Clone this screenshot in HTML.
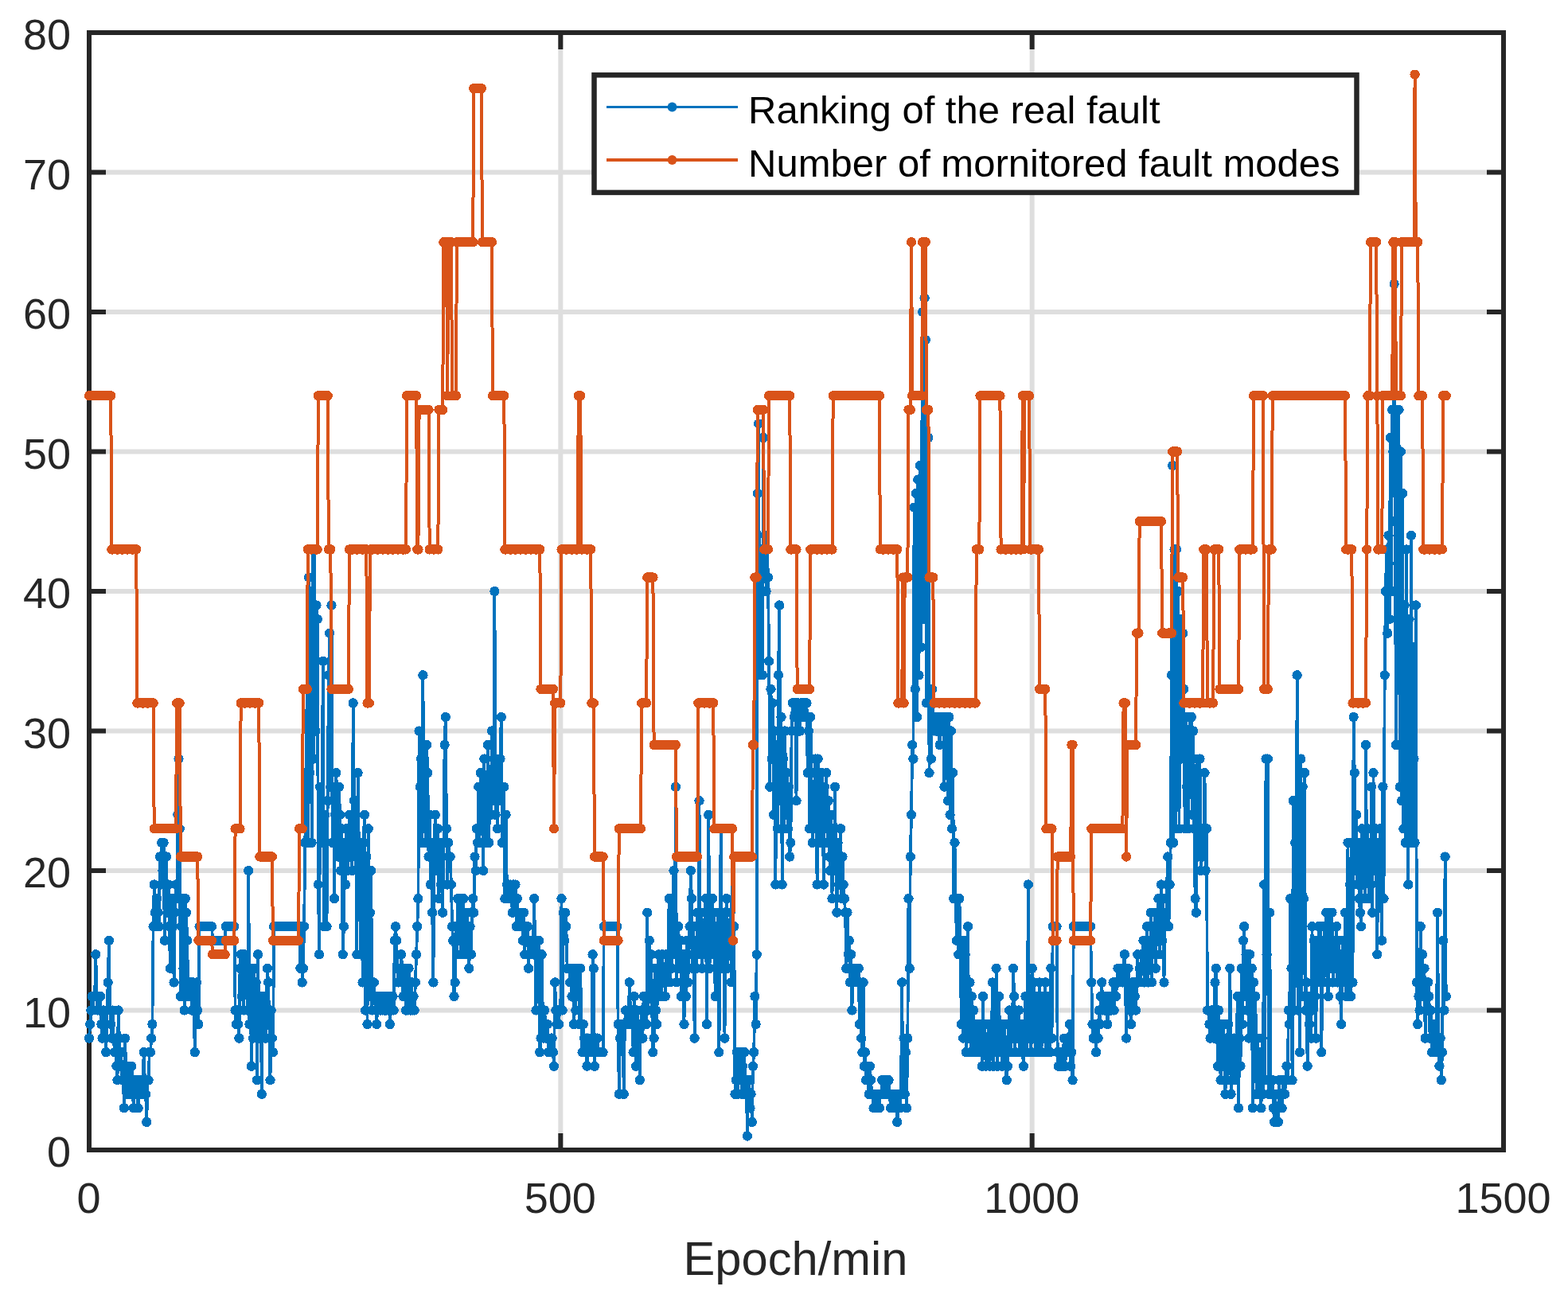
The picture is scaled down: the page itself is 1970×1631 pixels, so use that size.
<!DOCTYPE html>
<html lang="en">
<head>
<meta charset="utf-8">
<title>Ranking of the real fault vs. number of monitored fault modes</title>
<style>
html,body{margin:0;padding:0;background:#fff;}
body{width:1970px;height:1631px;overflow:hidden;font-family:"Liberation Sans",Arial,Helvetica,sans-serif;}
svg{display:block;}
</style>
</head>
<body>
<svg width="1970" height="1631" viewBox="0 0 1970 1631">
<rect width="1970" height="1631" fill="#fff"/>
<path d="M704.33 41.0V1445.0M1296.67 41.0V1445.0M112.0 1269.50H1889.0M112.0 1094.00H1889.0M112.0 918.50H1889.0M112.0 743.00H1889.0M112.0 567.50H1889.0M112.0 392.00H1889.0M112.0 216.50H1889.0" stroke="#dedede" stroke-width="6" fill="none"/>
<path d="M704.33 1445.0v-21M704.33 41.0v21M1296.67 1445.0v-21M1296.67 41.0v21M112.0 1269.50h21M1889.0 1269.50h-21M112.0 1094.00h21M1889.0 1094.00h-21M112.0 918.50h21M1889.0 918.50h-21M112.0 743.00h21M1889.0 743.00h-21M112.0 567.50h21M1889.0 567.50h-21M112.0 392.00h21M1889.0 392.00h-21M112.0 216.50h21M1889.0 216.50h-21" stroke="#262626" stroke-width="6" fill="none"/>
<rect x="112.0" y="41.0" width="1777.0" height="1404.0" fill="none" stroke="#262626" stroke-width="6"/>
<path d="M112.0 1304.6L113.2 1287.0L114.4 1269.5L115.6 1252.0L116.7 1269.5L117.9 1252.0L119.1 1252.0L120.3 1199.3L121.5 1252.0L122.7 1269.5L123.8 1252.0L125.0 1269.5L126.2 1252.0L127.4 1287.0L128.6 1304.6L129.8 1269.5L131.0 1287.0L132.1 1304.6L133.3 1322.2L134.5 1269.5L135.7 1234.4L136.9 1181.8L138.1 1269.5L139.2 1287.0L140.4 1304.6L141.6 1269.5L142.8 1304.6L144.0 1322.2L145.2 1304.6L146.4 1339.7L147.5 1357.2L148.7 1269.5L149.9 1304.6L151.1 1339.7L152.3 1322.2L153.5 1357.2L154.6 1339.7L155.8 1392.3L157.0 1304.6L158.2 1339.7L159.4 1357.2L160.6 1374.8L161.8 1339.7L162.9 1357.2L164.1 1374.8L165.3 1339.7L166.5 1357.2L167.7 1392.3L168.9 1357.2L170.0 1374.8L171.2 1357.2L172.4 1374.8L173.6 1392.3L174.8 1357.2L176.0 1374.8L177.2 1357.2L178.3 1374.8L179.5 1357.2L180.7 1322.2L181.9 1357.2L183.1 1374.8L184.3 1409.9L185.4 1357.2L186.6 1357.2L187.8 1322.2L189.0 1322.2L190.2 1304.6L191.4 1287.0L192.6 1164.2L193.7 1111.5L194.9 1146.7L196.1 1164.2L197.3 1129.1L198.5 1146.7L199.7 1164.2L200.8 1076.5L202.0 1111.5L203.2 1058.9L204.4 1094.0L205.6 1058.9L206.8 1181.8L208.0 1111.5L209.1 1076.5L210.3 1146.7L211.5 1111.5L212.7 1164.2L213.9 1216.8L215.1 1146.7L216.3 1129.1L217.4 1164.2L218.6 1234.4L219.8 1146.7L221.0 1111.5L222.2 1129.1L223.4 1023.8L224.5 953.6L225.7 1041.3L226.9 1252.0L228.1 1164.2L229.3 1129.1L230.5 1216.8L231.7 1269.5L232.8 1129.1L234.0 1146.7L235.2 1181.8L236.4 1252.0L237.6 1234.4L238.8 1252.0L239.9 1234.4L241.1 1269.5L242.3 1234.4L243.5 1252.0L244.7 1322.2L245.9 1252.0L247.1 1234.4L248.2 1269.5L249.4 1287.0L250.6 1164.2L251.8 1164.2L253.0 1164.2L254.2 1164.2L255.3 1164.2L256.5 1164.2L257.7 1164.2L258.9 1164.2L260.1 1164.2L261.3 1164.2L262.5 1164.2L263.6 1164.2L264.8 1164.2L266.0 1164.2L267.2 1181.8L268.4 1181.8L269.6 1181.8L270.7 1181.8L271.9 1181.8L273.1 1181.8L274.3 1181.8L275.5 1181.8L276.7 1181.8L277.9 1181.8L279.0 1181.8L280.2 1181.8L281.4 1181.8L282.6 1181.8L283.8 1164.2L285.0 1164.2L286.1 1164.2L287.3 1164.2L288.5 1164.2L289.7 1164.2L290.9 1164.2L292.1 1164.2L293.3 1164.2L294.4 1164.2L295.6 1269.5L296.8 1287.0L298.0 1269.5L299.2 1287.0L300.4 1304.6L301.5 1216.8L302.7 1199.3L303.9 1252.0L305.1 1199.3L306.3 1269.5L307.5 1199.3L308.7 1234.4L309.8 1216.8L311.0 1269.5L312.2 1094.0L313.4 1287.0L314.6 1216.8L315.8 1339.7L316.9 1234.4L318.1 1304.6L319.3 1216.8L320.5 1287.0L321.7 1234.4L322.9 1357.2L324.1 1199.3L325.2 1269.5L326.4 1304.6L327.6 1252.0L328.8 1374.8L330.0 1269.5L331.2 1287.0L332.3 1252.0L333.5 1304.6L334.7 1269.5L335.9 1216.8L337.1 1234.4L338.3 1287.0L339.5 1357.2L340.6 1269.5L341.8 1304.6L343.0 1322.2L344.2 1164.2L345.4 1164.2L346.6 1164.2L347.7 1164.2L348.9 1164.2L350.1 1164.2L351.3 1164.2L352.5 1164.2L353.7 1164.2L354.9 1164.2L356.0 1164.2L357.2 1164.2L358.4 1164.2L359.6 1164.2L360.8 1164.2L362.0 1164.2L363.1 1164.2L364.3 1164.2L365.5 1164.2L366.7 1164.2L367.9 1164.2L369.1 1164.2L370.3 1164.2L371.4 1164.2L372.6 1164.2L373.8 1164.2L375.0 1164.2L376.2 1164.2L377.4 1216.8L378.6 1164.2L379.7 1234.4L380.9 1216.8L382.1 1164.2L383.3 1058.9L384.5 971.1L385.7 865.9L386.8 1058.9L388.0 725.5L389.2 971.1L390.4 743.0L391.6 1058.9L392.8 690.4L394.0 953.6L395.1 690.4L396.3 918.5L397.5 760.5L398.7 778.1L399.9 1111.5L401.1 1199.3L402.2 988.7L403.4 1058.9L404.6 1006.2L405.8 830.8L407.0 1164.2L408.2 1023.8L409.4 1058.9L410.5 1164.2L411.7 1006.2L412.9 848.3L414.1 795.6L415.3 988.7L416.5 760.5L417.6 1058.9L418.8 988.7L420.0 1129.1L421.2 1023.8L422.4 971.1L423.6 1023.8L424.8 1076.5L425.9 988.7L427.1 1023.8L428.3 1094.0L429.5 1041.3L430.7 1199.3L431.9 1164.2L433.0 1058.9L434.2 1111.5L435.4 1041.3L436.6 1094.0L437.8 1058.9L439.0 1023.8L440.2 1076.5L441.3 1041.3L442.5 1094.0L443.7 883.4L444.9 1006.2L446.1 1006.2L447.3 1076.5L448.4 1199.3L449.6 971.1L450.8 1058.9L452.0 1094.0L453.2 1199.3L454.4 1058.9L455.6 1234.4L456.7 1058.9L457.9 1023.8L459.1 1269.5L460.3 1076.5L461.5 1287.0L462.7 1041.3L463.8 1252.0L465.0 1146.7L466.2 1094.0L467.4 1269.5L468.6 1234.4L469.8 1234.4L471.0 1252.0L472.1 1269.5L473.3 1287.0L474.5 1252.0L475.7 1269.5L476.9 1252.0L478.1 1269.5L479.2 1252.0L480.4 1269.5L481.6 1252.0L482.8 1269.5L484.0 1252.0L485.2 1269.5L486.4 1252.0L487.5 1269.5L488.7 1252.0L489.9 1287.0L491.1 1252.0L492.3 1269.5L493.5 1252.0L494.6 1269.5L495.8 1181.8L497.0 1164.2L498.2 1181.8L499.4 1216.8L500.6 1234.4L501.8 1216.8L502.9 1234.4L504.1 1199.3L505.3 1216.8L506.5 1252.0L507.7 1216.8L508.9 1234.4L510.0 1269.5L511.2 1216.8L512.4 1269.5L513.6 1216.8L514.8 1252.0L516.0 1269.5L517.2 1234.4L518.3 1269.5L519.5 1252.0L520.7 1269.5L521.9 1234.4L523.1 1199.3L524.3 1164.2L525.4 1129.1L526.6 918.5L527.8 988.7L529.0 953.6L530.2 1058.9L531.4 848.3L532.6 1041.3L533.7 971.1L534.9 1058.9L536.1 936.0L537.3 971.1L538.5 1076.5L539.7 1023.8L540.8 1111.5L542.0 1058.9L543.2 1146.7L544.4 1234.4L545.6 1058.9L546.8 1023.8L548.0 1094.0L549.1 1058.9L550.3 1041.3L551.5 1129.1L552.7 1058.9L553.9 1111.5L555.1 1076.5L556.2 1146.7L557.4 1058.9L558.6 936.0L559.8 901.0L561.0 1041.3L562.2 1111.5L563.4 1058.9L564.5 1076.5L565.7 1076.5L566.9 1111.5L568.1 1164.2L569.3 1181.8L570.5 1252.0L571.7 1234.4L572.8 1164.2L574.0 1199.3L575.2 1129.1L576.4 1181.8L577.6 1129.1L578.8 1199.3L579.9 1146.7L581.1 1181.8L582.3 1129.1L583.5 1199.3L584.7 1164.2L585.9 1181.8L587.1 1146.7L588.2 1199.3L589.4 1216.8L590.6 1164.2L591.8 1199.3L593.0 1146.7L594.2 1129.1L595.3 1146.7L596.5 1076.5L597.7 1094.0L598.9 1041.3L600.1 1058.9L601.3 988.7L602.5 1058.9L603.6 971.1L604.8 1041.3L606.0 1006.2L607.2 1094.0L608.4 953.6L609.6 1058.9L610.7 988.7L611.9 1023.8L613.1 936.0L614.3 1058.9L615.5 971.1L616.7 1023.8L617.9 918.5L619.0 1006.2L620.2 953.6L621.4 743.0L622.6 1023.8L623.8 953.6L625.0 1041.3L626.1 971.1L627.3 1006.2L628.5 953.6L629.7 901.0L630.9 1058.9L632.1 1058.9L633.3 988.7L634.4 1129.1L635.6 1023.8L636.8 1111.5L638.0 1129.1L639.2 1111.5L640.4 1129.1L641.5 1111.5L642.7 1129.1L643.9 1146.7L645.1 1111.5L646.3 1129.1L647.5 1111.5L648.7 1164.2L649.8 1129.1L651.0 1146.7L652.2 1164.2L653.4 1146.7L654.6 1164.2L655.8 1146.7L656.9 1181.8L658.1 1146.7L659.3 1199.3L660.5 1164.2L661.7 1181.8L662.9 1164.2L664.1 1216.8L665.2 1181.8L666.4 1199.3L667.6 1181.8L668.8 1199.3L670.0 1181.8L671.2 1129.1L672.3 1199.3L673.5 1269.5L674.7 1181.8L675.9 1199.3L677.1 1181.8L678.3 1322.2L679.5 1304.6L680.6 1199.3L681.8 1269.5L683.0 1304.6L684.2 1269.5L685.4 1287.0L686.6 1304.6L687.7 1287.0L688.9 1322.2L690.1 1304.6L691.3 1322.2L692.5 1304.6L693.7 1304.6L694.9 1322.2L696.0 1339.7L697.2 1234.4L698.4 1269.5L699.6 1287.0L700.8 1269.5L702.0 1287.0L703.1 1269.5L704.3 1269.5L705.5 1129.1L706.7 1269.5L707.9 1146.7L709.1 1181.8L710.3 1146.7L711.4 1164.2L712.6 1216.8L713.8 1216.8L715.0 1216.8L716.2 1234.4L717.4 1216.8L718.5 1252.0L719.7 1216.8L720.9 1287.0L722.1 1216.8L723.3 1269.5L724.5 1216.8L725.7 1252.0L726.8 1216.8L728.0 1287.0L729.2 1216.8L730.4 1287.0L731.6 1322.2L732.8 1287.0L734.0 1304.6L735.1 1322.2L736.3 1304.6L737.5 1339.7L738.7 1304.6L739.9 1322.2L741.1 1304.6L742.2 1322.2L743.4 1304.6L744.6 1199.3L745.8 1216.8L747.0 1339.7L748.2 1304.6L749.4 1322.2L750.5 1304.6L751.7 1322.2L752.9 1322.2L754.1 1322.2L755.3 1322.2L756.5 1322.2L757.6 1322.2L758.8 1164.2L760.0 1164.2L761.2 1164.2L762.4 1164.2L763.6 1164.2L764.8 1164.2L765.9 1164.2L767.1 1164.2L768.3 1164.2L769.5 1164.2L770.7 1164.2L771.9 1164.2L773.0 1164.2L774.2 1164.2L775.4 1164.2L776.6 1287.0L777.8 1374.8L779.0 1304.6L780.2 1287.0L781.3 1304.6L782.5 1287.0L783.7 1374.8L784.9 1287.0L786.1 1269.5L787.3 1287.0L788.4 1269.5L789.6 1287.0L790.8 1234.4L792.0 1269.5L793.2 1287.0L794.4 1269.5L795.6 1322.2L796.7 1252.0L797.9 1287.0L799.1 1339.7L800.3 1269.5L801.5 1287.0L802.7 1304.6L803.8 1357.2L805.0 1287.0L806.2 1269.5L807.4 1304.6L808.6 1252.0L809.8 1287.0L811.0 1269.5L812.1 1287.0L813.3 1146.7L814.5 1269.5L815.7 1181.8L816.9 1234.4L818.1 1199.3L819.2 1269.5L820.4 1322.2L821.6 1304.6L822.8 1216.8L824.0 1269.5L825.2 1287.0L826.4 1216.8L827.5 1199.3L828.7 1252.0L829.9 1216.8L831.1 1252.0L832.3 1199.3L833.5 1234.4L834.6 1216.8L835.8 1252.0L837.0 1199.3L838.2 1234.4L839.4 1216.8L840.6 1129.1L841.8 1234.4L842.9 1199.3L844.1 1216.8L845.3 1129.1L846.5 1094.0L847.7 1199.3L848.9 988.7L850.0 1234.4L851.2 1199.3L852.4 1164.2L853.6 1216.8L854.8 1181.8L856.0 1252.0L857.2 1199.3L858.3 1234.4L859.5 1287.0L860.7 1199.3L861.9 1252.0L863.1 1181.8L864.3 1234.4L865.4 1199.3L866.6 1164.2L867.8 1094.0L869.0 1129.1L870.2 1216.8L871.4 1164.2L872.6 1304.6L873.7 1181.8L874.9 1216.8L876.1 1146.7L877.3 1199.3L878.5 1006.2L879.7 1199.3L880.8 1146.7L882.0 1216.8L883.2 1164.2L884.4 1199.3L885.6 1146.7L886.8 1129.1L888.0 1287.0L889.1 1164.2L890.3 1023.8L891.5 1216.8L892.7 1146.7L893.9 1181.8L895.1 1129.1L896.2 1199.3L897.4 1146.7L898.6 1252.0L899.8 1164.2L901.0 1216.8L902.2 1146.7L903.4 1322.2L904.5 1181.8L905.7 1041.3L906.9 1216.8L908.1 1146.7L909.3 1199.3L910.5 1304.6L911.6 1164.2L912.8 1129.1L914.0 1216.8L915.2 1164.2L916.4 1199.3L917.6 1146.7L918.8 1234.4L919.9 1041.3L921.1 1164.2L922.3 1164.2L923.5 1374.8L924.7 1357.2L925.9 1322.2L927.1 1374.8L928.2 1339.7L929.4 1357.2L930.6 1322.2L931.8 1374.8L933.0 1339.7L934.2 1357.2L935.3 1322.2L936.5 1374.8L937.7 1357.2L938.9 1427.5L940.1 1374.8L941.3 1357.2L942.5 1392.3L943.6 1374.8L944.8 1409.9L946.0 1339.7L947.2 1322.2L948.4 1252.0L949.6 1287.0L950.7 1199.3L951.9 620.1L953.1 532.4L954.3 848.3L955.5 690.4L956.7 743.0L957.9 848.3L959.0 550.0L960.2 707.9L961.4 672.8L962.6 743.0L963.8 690.4L965.0 725.5L966.1 830.8L967.3 988.7L968.5 865.9L969.7 953.6L970.9 883.4L972.1 1023.8L973.3 918.5L974.4 1111.5L975.6 936.0L976.8 1041.3L978.0 848.3L979.2 760.5L980.4 1006.2L981.5 901.0L982.7 1111.5L983.9 953.6L985.1 1041.3L986.3 918.5L987.5 1023.8L988.7 971.1L989.8 1041.3L991.0 988.7L992.2 1076.5L993.4 1058.9L994.6 918.5L995.8 883.4L996.9 883.4L998.1 901.0L999.3 883.4L1000.5 1006.2L1001.7 883.4L1002.9 883.4L1004.1 918.5L1005.2 918.5L1006.4 883.4L1007.6 883.4L1008.8 901.0L1010.0 883.4L1011.2 883.4L1012.3 901.0L1013.5 883.4L1014.7 971.1L1015.9 918.5L1017.1 1041.3L1018.3 901.0L1019.5 971.1L1020.6 1058.9L1021.8 988.7L1023.0 1041.3L1024.2 953.6L1025.4 1023.8L1026.6 1111.5L1027.7 953.6L1028.9 1041.3L1030.1 988.7L1031.3 1058.9L1032.5 971.1L1033.7 1023.8L1034.9 1111.5L1036.0 988.7L1037.2 1041.3L1038.4 971.1L1039.6 1058.9L1040.8 1006.2L1042.0 1076.5L1043.1 1094.0L1044.3 1023.8L1045.5 1129.1L1046.7 1041.3L1047.9 1076.5L1049.1 988.7L1050.3 1094.0L1051.4 1146.7L1052.6 1058.9L1053.8 1111.5L1055.0 1076.5L1056.2 1041.3L1057.4 1129.1L1058.5 1076.5L1059.7 1111.5L1060.9 1129.1L1062.1 1146.7L1063.3 1216.8L1064.5 1146.7L1065.7 1199.3L1066.8 1181.8L1068.0 1234.4L1069.2 1199.3L1070.4 1269.5L1071.6 1216.8L1072.8 1234.4L1073.9 1216.8L1075.1 1234.4L1076.3 1216.8L1077.5 1234.4L1078.7 1216.8L1079.9 1287.0L1081.1 1234.4L1082.2 1304.6L1083.4 1322.2L1084.6 1234.4L1085.8 1339.7L1087.0 1322.2L1088.2 1357.2L1089.3 1339.7L1090.5 1357.2L1091.7 1374.8L1092.9 1339.7L1094.1 1357.2L1095.3 1374.8L1096.5 1374.8L1097.6 1392.3L1098.8 1374.8L1100.0 1374.8L1101.2 1392.3L1102.4 1374.8L1103.6 1374.8L1104.8 1392.3L1105.9 1374.8L1107.1 1374.8L1108.3 1357.2L1109.5 1374.8L1110.7 1357.2L1111.9 1374.8L1113.0 1357.2L1114.2 1374.8L1115.4 1357.2L1116.6 1357.2L1117.8 1374.8L1119.0 1392.3L1120.2 1392.3L1121.3 1374.8L1122.5 1392.3L1123.7 1374.8L1124.9 1392.3L1126.1 1374.8L1127.3 1409.9L1128.4 1392.3L1129.6 1374.8L1130.8 1392.3L1132.0 1374.8L1133.2 1234.4L1134.4 1374.8L1135.6 1304.6L1136.7 1374.8L1137.9 1322.2L1139.1 1392.3L1140.3 1304.6L1141.5 1129.1L1142.7 1216.8L1143.8 1076.5L1145.0 1023.8L1146.2 936.0L1147.4 953.6L1148.6 637.7L1149.8 865.9L1151.0 620.1L1152.1 901.0L1153.3 602.6L1154.5 848.3L1155.7 585.0L1156.9 813.2L1158.1 585.0L1159.2 392.0L1160.4 778.1L1161.6 374.5L1162.8 427.1L1164.0 883.4L1165.2 514.9L1166.4 550.0L1167.5 971.1L1168.7 865.9L1169.9 953.6L1171.1 865.9L1172.3 901.0L1173.5 918.5L1174.6 901.0L1175.8 918.5L1177.0 901.0L1178.2 918.5L1179.4 901.0L1180.6 936.0L1181.8 901.0L1182.9 918.5L1184.1 901.0L1185.3 918.5L1186.5 988.7L1187.7 901.0L1188.9 918.5L1190.0 901.0L1191.2 1006.2L1192.4 901.0L1193.6 1023.8L1194.8 918.5L1196.0 1041.3L1197.2 971.1L1198.3 1129.1L1199.5 1058.9L1200.7 1129.1L1201.9 1181.8L1203.1 1129.1L1204.3 1199.3L1205.4 1129.1L1206.6 1181.8L1207.8 1287.0L1209.0 1199.3L1210.2 1304.6L1211.4 1181.8L1212.6 1199.3L1213.7 1322.2L1214.9 1269.5L1216.1 1164.2L1217.3 1304.6L1218.5 1234.4L1219.7 1322.2L1220.8 1252.0L1222.0 1304.6L1223.2 1269.5L1224.4 1322.2L1225.6 1287.0L1226.8 1304.6L1228.0 1322.2L1229.1 1287.0L1230.3 1304.6L1231.5 1322.2L1232.7 1287.0L1233.9 1339.7L1235.1 1252.0L1236.2 1322.2L1237.4 1287.0L1238.6 1339.7L1239.8 1304.6L1241.0 1322.2L1242.2 1287.0L1243.4 1339.7L1244.5 1304.6L1245.7 1322.2L1246.9 1234.4L1248.1 1339.7L1249.3 1287.0L1250.5 1322.2L1251.6 1216.8L1252.8 1339.7L1254.0 1304.6L1255.2 1252.0L1256.4 1322.2L1257.6 1287.0L1258.8 1339.7L1259.9 1304.6L1261.1 1322.2L1262.3 1287.0L1263.5 1339.7L1264.7 1357.2L1265.9 1339.7L1267.0 1287.0L1268.2 1269.5L1269.4 1322.2L1270.6 1287.0L1271.8 1304.6L1273.0 1216.8L1274.2 1252.0L1275.3 1322.2L1276.5 1269.5L1277.7 1304.6L1278.9 1287.0L1280.1 1269.5L1281.3 1322.2L1282.5 1287.0L1283.6 1304.6L1284.8 1322.2L1286.0 1339.7L1287.2 1287.0L1288.4 1252.0L1289.6 1322.2L1290.7 1287.0L1291.9 1111.5L1293.1 1304.6L1294.3 1269.5L1295.5 1322.2L1296.7 1216.8L1297.9 1304.6L1299.0 1234.4L1300.2 1304.6L1301.4 1322.2L1302.6 1252.0L1303.8 1304.6L1305.0 1322.2L1306.1 1234.4L1307.3 1287.0L1308.5 1322.2L1309.7 1252.0L1310.9 1304.6L1312.1 1304.6L1313.3 1234.4L1314.4 1322.2L1315.6 1287.0L1316.8 1252.0L1318.0 1304.6L1319.2 1322.2L1320.4 1216.8L1321.5 1304.6L1322.7 1164.2L1323.9 1164.2L1325.1 1164.2L1326.3 1164.2L1327.5 1164.2L1328.7 1322.2L1329.8 1339.7L1331.0 1322.2L1332.2 1339.7L1333.4 1322.2L1334.6 1339.7L1335.8 1322.2L1336.9 1304.6L1338.1 1339.7L1339.3 1322.2L1340.5 1304.6L1341.7 1322.2L1342.9 1304.6L1344.1 1287.0L1345.2 1339.7L1346.4 1322.2L1347.6 1357.2L1348.8 1164.2L1350.0 1164.2L1351.2 1164.2L1352.3 1164.2L1353.5 1164.2L1354.7 1164.2L1355.9 1164.2L1357.1 1164.2L1358.3 1164.2L1359.5 1164.2L1360.6 1164.2L1361.8 1164.2L1363.0 1164.2L1364.2 1164.2L1365.4 1164.2L1366.6 1164.2L1367.7 1164.2L1368.9 1164.2L1370.1 1164.2L1371.3 1234.4L1372.5 1287.0L1373.7 1304.6L1374.9 1287.0L1376.0 1304.6L1377.2 1322.2L1378.4 1287.0L1379.6 1304.6L1380.8 1269.5L1382.0 1287.0L1383.1 1252.0L1384.3 1234.4L1385.5 1269.5L1386.7 1252.0L1387.9 1269.5L1389.1 1252.0L1390.3 1269.5L1391.4 1287.0L1392.6 1252.0L1393.8 1269.5L1395.0 1252.0L1396.2 1269.5L1397.4 1252.0L1398.5 1234.4L1399.7 1269.5L1400.9 1234.4L1402.1 1252.0L1403.3 1234.4L1404.5 1216.8L1405.7 1234.4L1406.8 1216.8L1408.0 1234.4L1409.2 1216.8L1410.4 1234.4L1411.6 1216.8L1412.8 1199.3L1413.9 1234.4L1415.1 1304.6L1416.3 1234.4L1417.5 1216.8L1418.7 1234.4L1419.9 1269.5L1421.1 1287.0L1422.2 1234.4L1423.4 1269.5L1424.6 1234.4L1425.8 1252.0L1427.0 1269.5L1428.2 1234.4L1429.3 1199.3L1430.5 1234.4L1431.7 1216.8L1432.9 1234.4L1434.1 1199.3L1435.3 1216.8L1436.5 1181.8L1437.6 1234.4L1438.8 1199.3L1440.0 1216.8L1441.2 1164.2L1442.4 1234.4L1443.6 1181.8L1444.8 1216.8L1445.9 1146.7L1447.1 1234.4L1448.3 1164.2L1449.5 1199.3L1450.7 1146.7L1451.9 1216.8L1453.0 1164.2L1454.2 1181.8L1455.4 1129.1L1456.6 1199.3L1457.8 1146.7L1459.0 1111.5L1460.2 1181.8L1461.3 1129.1L1462.5 1234.4L1463.7 1146.7L1464.9 1164.2L1466.1 1111.5L1467.3 1076.5L1468.4 1164.2L1469.6 1111.5L1470.8 1058.9L1472.0 848.3L1473.2 585.0L1474.4 1058.9L1475.6 690.4L1476.7 1041.3L1477.9 690.4L1479.1 918.5L1480.3 743.0L1481.5 1041.3L1482.7 778.1L1483.8 953.6L1485.0 918.5L1486.2 795.6L1487.4 865.9L1488.6 1041.3L1489.8 901.0L1491.0 988.7L1492.1 918.5L1493.3 1041.3L1494.5 901.0L1495.7 953.6L1496.9 901.0L1498.1 1023.8L1499.2 918.5L1500.4 1041.3L1501.6 1129.1L1502.8 1146.7L1504.0 953.6L1505.2 1076.5L1506.4 1041.3L1507.5 953.6L1508.7 1094.0L1509.9 1041.3L1511.1 1076.5L1512.3 1041.3L1513.5 971.1L1514.6 1094.0L1515.8 1041.3L1517.0 1269.5L1518.2 1269.5L1519.4 1287.0L1520.6 1304.6L1521.8 1269.5L1522.9 1287.0L1524.1 1269.5L1525.3 1304.6L1526.5 1234.4L1527.7 1216.8L1528.9 1287.0L1530.0 1339.7L1531.2 1269.5L1532.4 1304.6L1533.6 1357.2L1534.8 1287.0L1536.0 1322.2L1537.2 1287.0L1538.3 1339.7L1539.5 1374.8L1540.7 1304.6L1541.9 1357.2L1543.1 1287.0L1544.3 1322.2L1545.4 1216.8L1546.6 1374.8L1547.8 1304.6L1549.0 1339.7L1550.2 1304.6L1551.4 1357.2L1552.6 1339.7L1553.7 1304.6L1554.9 1252.0L1556.1 1392.3L1557.3 1304.6L1558.5 1339.7L1559.7 1216.8L1560.8 1287.0L1562.0 1181.8L1563.2 1164.2L1564.4 1252.0L1565.6 1199.3L1566.8 1269.5L1568.0 1216.8L1569.1 1304.6L1570.3 1199.3L1571.5 1287.0L1572.7 1216.8L1573.9 1392.3L1575.1 1234.4L1576.2 1304.6L1577.4 1252.0L1578.6 1374.8L1579.8 1304.6L1581.0 1357.2L1582.2 1322.2L1583.4 1374.8L1584.5 1392.3L1585.7 1304.6L1586.9 1374.8L1588.1 1111.5L1589.3 1357.2L1590.5 953.6L1591.6 1199.3L1592.8 953.6L1594.0 1374.8L1595.2 1146.7L1596.4 1357.2L1597.6 1374.8L1598.8 1357.2L1599.9 1392.3L1601.1 1409.9L1602.3 1374.8L1603.5 1409.9L1604.7 1392.3L1605.9 1409.9L1607.0 1357.2L1608.2 1392.3L1609.4 1374.8L1610.6 1392.3L1611.8 1357.2L1613.0 1357.2L1614.2 1374.8L1615.3 1357.2L1616.5 1339.7L1617.7 1357.2L1618.9 1269.5L1620.1 1287.0L1621.3 1129.1L1622.5 1216.8L1623.6 1357.2L1624.8 1006.2L1626.0 1269.5L1627.2 1058.9L1628.4 1234.4L1629.6 848.3L1630.7 1269.5L1631.9 1023.8L1633.1 1322.2L1634.3 953.6L1635.5 1252.0L1636.7 988.7L1637.9 1129.1L1639.0 971.1L1640.2 1269.5L1641.4 1234.4L1642.6 1339.7L1643.8 1252.0L1645.0 1287.0L1646.1 1252.0L1647.3 1304.6L1648.5 1164.2L1649.7 1269.5L1650.9 1181.8L1652.1 1252.0L1653.3 1304.6L1654.4 1181.8L1655.6 1234.4L1656.8 1164.2L1658.0 1216.8L1659.2 1164.2L1660.4 1322.2L1661.5 1181.8L1662.7 1234.4L1663.9 1164.2L1665.1 1216.8L1666.3 1146.7L1667.5 1234.4L1668.7 1252.0L1669.8 1146.7L1671.0 1216.8L1672.2 1164.2L1673.4 1146.7L1674.6 1234.4L1675.8 1181.8L1676.9 1216.8L1678.1 1181.8L1679.3 1164.2L1680.5 1234.4L1681.7 1181.8L1682.9 1216.8L1684.1 1252.0L1685.2 1287.0L1686.4 1199.3L1687.6 1181.8L1688.8 1234.4L1690.0 1146.7L1691.2 1252.0L1692.3 1181.8L1693.5 1058.9L1694.7 1252.0L1695.9 1111.5L1697.1 1252.0L1698.3 1058.9L1699.5 1234.4L1700.6 901.0L1701.8 971.1L1703.0 1094.0L1704.2 1023.8L1705.4 1111.5L1706.6 1058.9L1707.7 1129.1L1708.9 1146.7L1710.1 1164.2L1711.3 1041.3L1712.5 1111.5L1713.7 1058.9L1714.9 1129.1L1716.0 936.0L1717.2 1094.0L1718.4 1041.3L1719.6 1129.1L1720.8 1058.9L1722.0 1111.5L1723.1 988.7L1724.3 1146.7L1725.5 971.1L1726.7 1094.0L1727.9 1041.3L1729.1 1076.5L1730.3 1199.3L1731.4 1058.9L1732.6 1111.5L1733.8 1041.3L1735.0 1129.1L1736.2 1181.8L1737.4 988.7L1738.5 1129.1L1739.7 848.3L1740.9 743.0L1742.1 690.4L1743.3 795.6L1744.5 672.8L1745.7 778.1L1746.8 550.0L1748.0 743.0L1749.2 514.9L1750.4 567.5L1751.6 356.9L1752.8 655.2L1753.9 936.0L1755.1 514.9L1756.3 707.9L1757.5 514.9L1758.7 988.7L1759.9 567.5L1761.1 1006.2L1762.2 620.1L1763.4 1041.3L1764.6 760.5L1765.8 1058.9L1767.0 690.4L1768.2 918.5L1769.3 1111.5L1770.5 778.1L1771.7 1058.9L1772.9 672.8L1774.1 1058.9L1775.3 813.2L1776.5 953.6L1777.6 1058.9L1778.8 760.5L1780.0 1234.4L1781.2 1287.0L1782.4 1252.0L1783.6 1269.5L1784.7 1164.2L1785.9 1234.4L1787.1 1199.3L1788.3 1252.0L1789.5 1216.8L1790.7 1304.6L1791.9 1234.4L1793.0 1269.5L1794.2 1234.4L1795.4 1252.0L1796.6 1304.6L1797.8 1269.5L1799.0 1322.2L1800.2 1304.6L1801.3 1322.2L1802.5 1287.0L1803.7 1322.2L1804.9 1304.6L1806.1 1146.7L1807.3 1322.2L1808.4 1339.7L1809.6 1304.6L1810.8 1357.2L1812.0 1322.2L1813.2 1181.8L1814.4 1269.5L1815.6 1076.5L1816.7 1252.0" stroke="#0072BD" stroke-width="3.8" fill="none" stroke-linejoin="round" shape-rendering="crispEdges"/>
<path d="M112.0 1304.6h0M113.2 1287.0h0M114.4 1269.5h0M115.6 1252.0h0M116.7 1269.5h0M117.9 1252.0h0M119.1 1252.0h0M120.3 1199.3h0M121.5 1252.0h0M122.7 1269.5h0M123.8 1252.0h0M125.0 1269.5h0M126.2 1252.0h0M127.4 1287.0h0M128.6 1304.6h0M129.8 1269.5h0M131.0 1287.0h0M132.1 1304.6h0M133.3 1322.2h0M134.5 1269.5h0M135.7 1234.4h0M136.9 1181.8h0M138.1 1269.5h0M139.2 1287.0h0M140.4 1304.6h0M141.6 1269.5h0M142.8 1304.6h0M144.0 1322.2h0M145.2 1304.6h0M146.4 1339.7h0M147.5 1357.2h0M148.7 1269.5h0M149.9 1304.6h0M151.1 1339.7h0M152.3 1322.2h0M153.5 1357.2h0M154.6 1339.7h0M155.8 1392.3h0M157.0 1304.6h0M158.2 1339.7h0M159.4 1357.2h0M160.6 1374.8h0M161.8 1339.7h0M162.9 1357.2h0M164.1 1374.8h0M165.3 1339.7h0M166.5 1357.2h0M167.7 1392.3h0M168.9 1357.2h0M170.0 1374.8h0M171.2 1357.2h0M172.4 1374.8h0M173.6 1392.3h0M174.8 1357.2h0M176.0 1374.8h0M177.2 1357.2h0M178.3 1374.8h0M179.5 1357.2h0M180.7 1322.2h0M181.9 1357.2h0M183.1 1374.8h0M184.3 1409.9h0M185.4 1357.2h0M186.6 1357.2h0M187.8 1322.2h0M189.0 1322.2h0M190.2 1304.6h0M191.4 1287.0h0M192.6 1164.2h0M193.7 1111.5h0M194.9 1146.7h0M196.1 1164.2h0M197.3 1129.1h0M198.5 1146.7h0M199.7 1164.2h0M200.8 1076.5h0M202.0 1111.5h0M203.2 1058.9h0M204.4 1094.0h0M205.6 1058.9h0M206.8 1181.8h0M208.0 1111.5h0M209.1 1076.5h0M210.3 1146.7h0M211.5 1111.5h0M212.7 1164.2h0M213.9 1216.8h0M215.1 1146.7h0M216.3 1129.1h0M217.4 1164.2h0M218.6 1234.4h0M219.8 1146.7h0M221.0 1111.5h0M222.2 1129.1h0M223.4 1023.8h0M224.5 953.6h0M225.7 1041.3h0M226.9 1252.0h0M228.1 1164.2h0M229.3 1129.1h0M230.5 1216.8h0M231.7 1269.5h0M232.8 1129.1h0M234.0 1146.7h0M235.2 1181.8h0M236.4 1252.0h0M237.6 1234.4h0M238.8 1252.0h0M239.9 1234.4h0M241.1 1269.5h0M242.3 1234.4h0M243.5 1252.0h0M244.7 1322.2h0M245.9 1252.0h0M247.1 1234.4h0M248.2 1269.5h0M249.4 1287.0h0M250.6 1164.2h0M251.8 1164.2h0M253.0 1164.2h0M254.2 1164.2h0M255.3 1164.2h0M256.5 1164.2h0M257.7 1164.2h0M258.9 1164.2h0M260.1 1164.2h0M261.3 1164.2h0M262.5 1164.2h0M263.6 1164.2h0M264.8 1164.2h0M266.0 1164.2h0M267.2 1181.8h0M268.4 1181.8h0M269.6 1181.8h0M270.7 1181.8h0M271.9 1181.8h0M273.1 1181.8h0M274.3 1181.8h0M275.5 1181.8h0M276.7 1181.8h0M277.9 1181.8h0M279.0 1181.8h0M280.2 1181.8h0M281.4 1181.8h0M282.6 1181.8h0M283.8 1164.2h0M285.0 1164.2h0M286.1 1164.2h0M287.3 1164.2h0M288.5 1164.2h0M289.7 1164.2h0M290.9 1164.2h0M292.1 1164.2h0M293.3 1164.2h0M294.4 1164.2h0M295.6 1269.5h0M296.8 1287.0h0M298.0 1269.5h0M299.2 1287.0h0M300.4 1304.6h0M301.5 1216.8h0M302.7 1199.3h0M303.9 1252.0h0M305.1 1199.3h0M306.3 1269.5h0M307.5 1199.3h0M308.7 1234.4h0M309.8 1216.8h0M311.0 1269.5h0M312.2 1094.0h0M313.4 1287.0h0M314.6 1216.8h0M315.8 1339.7h0M316.9 1234.4h0M318.1 1304.6h0M319.3 1216.8h0M320.5 1287.0h0M321.7 1234.4h0M322.9 1357.2h0M324.1 1199.3h0M325.2 1269.5h0M326.4 1304.6h0M327.6 1252.0h0M328.8 1374.8h0M330.0 1269.5h0M331.2 1287.0h0M332.3 1252.0h0M333.5 1304.6h0M334.7 1269.5h0M335.9 1216.8h0M337.1 1234.4h0M338.3 1287.0h0M339.5 1357.2h0M340.6 1269.5h0M341.8 1304.6h0M343.0 1322.2h0M344.2 1164.2h0M345.4 1164.2h0M346.6 1164.2h0M347.7 1164.2h0M348.9 1164.2h0M350.1 1164.2h0M351.3 1164.2h0M352.5 1164.2h0M353.7 1164.2h0M354.9 1164.2h0M356.0 1164.2h0M357.2 1164.2h0M358.4 1164.2h0M359.6 1164.2h0M360.8 1164.2h0M362.0 1164.2h0M363.1 1164.2h0M364.3 1164.2h0M365.5 1164.2h0M366.7 1164.2h0M367.9 1164.2h0M369.1 1164.2h0M370.3 1164.2h0M371.4 1164.2h0M372.6 1164.2h0M373.8 1164.2h0M375.0 1164.2h0M376.2 1164.2h0M377.4 1216.8h0M378.6 1164.2h0M379.7 1234.4h0M380.9 1216.8h0M382.1 1164.2h0M383.3 1058.9h0M384.5 971.1h0M385.7 865.9h0M386.8 1058.9h0M388.0 725.5h0M389.2 971.1h0M390.4 743.0h0M391.6 1058.9h0M392.8 690.4h0M394.0 953.6h0M395.1 690.4h0M396.3 918.5h0M397.5 760.5h0M398.7 778.1h0M399.9 1111.5h0M401.1 1199.3h0M402.2 988.7h0M403.4 1058.9h0M404.6 1006.2h0M405.8 830.8h0M407.0 1164.2h0M408.2 1023.8h0M409.4 1058.9h0M410.5 1164.2h0M411.7 1006.2h0M412.9 848.3h0M414.1 795.6h0M415.3 988.7h0M416.5 760.5h0M417.6 1058.9h0M418.8 988.7h0M420.0 1129.1h0M421.2 1023.8h0M422.4 971.1h0M423.6 1023.8h0M424.8 1076.5h0M425.9 988.7h0M427.1 1023.8h0M428.3 1094.0h0M429.5 1041.3h0M430.7 1199.3h0M431.9 1164.2h0M433.0 1058.9h0M434.2 1111.5h0M435.4 1041.3h0M436.6 1094.0h0M437.8 1058.9h0M439.0 1023.8h0M440.2 1076.5h0M441.3 1041.3h0M442.5 1094.0h0M443.7 883.4h0M444.9 1006.2h0M446.1 1006.2h0M447.3 1076.5h0M448.4 1199.3h0M449.6 971.1h0M450.8 1058.9h0M452.0 1094.0h0M453.2 1199.3h0M454.4 1058.9h0M455.6 1234.4h0M456.7 1058.9h0M457.9 1023.8h0M459.1 1269.5h0M460.3 1076.5h0M461.5 1287.0h0M462.7 1041.3h0M463.8 1252.0h0M465.0 1146.7h0M466.2 1094.0h0M467.4 1269.5h0M468.6 1234.4h0M469.8 1234.4h0M471.0 1252.0h0M472.1 1269.5h0M473.3 1287.0h0M474.5 1252.0h0M475.7 1269.5h0M476.9 1252.0h0M478.1 1269.5h0M479.2 1252.0h0M480.4 1269.5h0M481.6 1252.0h0M482.8 1269.5h0M484.0 1252.0h0M485.2 1269.5h0M486.4 1252.0h0M487.5 1269.5h0M488.7 1252.0h0M489.9 1287.0h0M491.1 1252.0h0M492.3 1269.5h0M493.5 1252.0h0M494.6 1269.5h0M495.8 1181.8h0M497.0 1164.2h0M498.2 1181.8h0M499.4 1216.8h0M500.6 1234.4h0M501.8 1216.8h0M502.9 1234.4h0M504.1 1199.3h0M505.3 1216.8h0M506.5 1252.0h0M507.7 1216.8h0M508.9 1234.4h0M510.0 1269.5h0M511.2 1216.8h0M512.4 1269.5h0M513.6 1216.8h0M514.8 1252.0h0M516.0 1269.5h0M517.2 1234.4h0M518.3 1269.5h0M519.5 1252.0h0M520.7 1269.5h0M521.9 1234.4h0M523.1 1199.3h0M524.3 1164.2h0M525.4 1129.1h0M526.6 918.5h0M527.8 988.7h0M529.0 953.6h0M530.2 1058.9h0M531.4 848.3h0M532.6 1041.3h0M533.7 971.1h0M534.9 1058.9h0M536.1 936.0h0M537.3 971.1h0M538.5 1076.5h0M539.7 1023.8h0M540.8 1111.5h0M542.0 1058.9h0M543.2 1146.7h0M544.4 1234.4h0M545.6 1058.9h0M546.8 1023.8h0M548.0 1094.0h0M549.1 1058.9h0M550.3 1041.3h0M551.5 1129.1h0M552.7 1058.9h0M553.9 1111.5h0M555.1 1076.5h0M556.2 1146.7h0M557.4 1058.9h0M558.6 936.0h0M559.8 901.0h0M561.0 1041.3h0M562.2 1111.5h0M563.4 1058.9h0M564.5 1076.5h0M565.7 1076.5h0M566.9 1111.5h0M568.1 1164.2h0M569.3 1181.8h0M570.5 1252.0h0M571.7 1234.4h0M572.8 1164.2h0M574.0 1199.3h0M575.2 1129.1h0M576.4 1181.8h0M577.6 1129.1h0M578.8 1199.3h0M579.9 1146.7h0M581.1 1181.8h0M582.3 1129.1h0M583.5 1199.3h0M584.7 1164.2h0M585.9 1181.8h0M587.1 1146.7h0M588.2 1199.3h0M589.4 1216.8h0M590.6 1164.2h0M591.8 1199.3h0M593.0 1146.7h0M594.2 1129.1h0M595.3 1146.7h0M596.5 1076.5h0M597.7 1094.0h0M598.9 1041.3h0M600.1 1058.9h0M601.3 988.7h0M602.5 1058.9h0M603.6 971.1h0M604.8 1041.3h0M606.0 1006.2h0M607.2 1094.0h0M608.4 953.6h0M609.6 1058.9h0M610.7 988.7h0M611.9 1023.8h0M613.1 936.0h0M614.3 1058.9h0M615.5 971.1h0M616.7 1023.8h0M617.9 918.5h0M619.0 1006.2h0M620.2 953.6h0M621.4 743.0h0M622.6 1023.8h0M623.8 953.6h0M625.0 1041.3h0M626.1 971.1h0M627.3 1006.2h0M628.5 953.6h0M629.7 901.0h0M630.9 1058.9h0M632.1 1058.9h0M633.3 988.7h0M634.4 1129.1h0M635.6 1023.8h0M636.8 1111.5h0M638.0 1129.1h0M639.2 1111.5h0M640.4 1129.1h0M641.5 1111.5h0M642.7 1129.1h0M643.9 1146.7h0M645.1 1111.5h0M646.3 1129.1h0M647.5 1111.5h0M648.7 1164.2h0M649.8 1129.1h0M651.0 1146.7h0M652.2 1164.2h0M653.4 1146.7h0M654.6 1164.2h0M655.8 1146.7h0M656.9 1181.8h0M658.1 1146.7h0M659.3 1199.3h0M660.5 1164.2h0M661.7 1181.8h0M662.9 1164.2h0M664.1 1216.8h0M665.2 1181.8h0M666.4 1199.3h0M667.6 1181.8h0M668.8 1199.3h0M670.0 1181.8h0M671.2 1129.1h0M672.3 1199.3h0M673.5 1269.5h0M674.7 1181.8h0M675.9 1199.3h0M677.1 1181.8h0M678.3 1322.2h0M679.5 1304.6h0M680.6 1199.3h0M681.8 1269.5h0M683.0 1304.6h0M684.2 1269.5h0M685.4 1287.0h0M686.6 1304.6h0M687.7 1287.0h0M688.9 1322.2h0M690.1 1304.6h0M691.3 1322.2h0M692.5 1304.6h0M693.7 1304.6h0M694.9 1322.2h0M696.0 1339.7h0M697.2 1234.4h0M698.4 1269.5h0M699.6 1287.0h0M700.8 1269.5h0M702.0 1287.0h0M703.1 1269.5h0M704.3 1269.5h0M705.5 1129.1h0M706.7 1269.5h0M707.9 1146.7h0M709.1 1181.8h0M710.3 1146.7h0M711.4 1164.2h0M712.6 1216.8h0M713.8 1216.8h0M715.0 1216.8h0M716.2 1234.4h0M717.4 1216.8h0M718.5 1252.0h0M719.7 1216.8h0M720.9 1287.0h0M722.1 1216.8h0M723.3 1269.5h0M724.5 1216.8h0M725.7 1252.0h0M726.8 1216.8h0M728.0 1287.0h0M729.2 1216.8h0M730.4 1287.0h0M731.6 1322.2h0M732.8 1287.0h0M734.0 1304.6h0M735.1 1322.2h0M736.3 1304.6h0M737.5 1339.7h0M738.7 1304.6h0M739.9 1322.2h0M741.1 1304.6h0M742.2 1322.2h0M743.4 1304.6h0M744.6 1199.3h0M745.8 1216.8h0M747.0 1339.7h0M748.2 1304.6h0M749.4 1322.2h0M750.5 1304.6h0M751.7 1322.2h0M752.9 1322.2h0M754.1 1322.2h0M755.3 1322.2h0M756.5 1322.2h0M757.6 1322.2h0M758.8 1164.2h0M760.0 1164.2h0M761.2 1164.2h0M762.4 1164.2h0M763.6 1164.2h0M764.8 1164.2h0M765.9 1164.2h0M767.1 1164.2h0M768.3 1164.2h0M769.5 1164.2h0M770.7 1164.2h0M771.9 1164.2h0M773.0 1164.2h0M774.2 1164.2h0M775.4 1164.2h0M776.6 1287.0h0M777.8 1374.8h0M779.0 1304.6h0M780.2 1287.0h0M781.3 1304.6h0M782.5 1287.0h0M783.7 1374.8h0M784.9 1287.0h0M786.1 1269.5h0M787.3 1287.0h0M788.4 1269.5h0M789.6 1287.0h0M790.8 1234.4h0M792.0 1269.5h0M793.2 1287.0h0M794.4 1269.5h0M795.6 1322.2h0M796.7 1252.0h0M797.9 1287.0h0M799.1 1339.7h0M800.3 1269.5h0M801.5 1287.0h0M802.7 1304.6h0M803.8 1357.2h0M805.0 1287.0h0M806.2 1269.5h0M807.4 1304.6h0M808.6 1252.0h0M809.8 1287.0h0M811.0 1269.5h0M812.1 1287.0h0M813.3 1146.7h0M814.5 1269.5h0M815.7 1181.8h0M816.9 1234.4h0M818.1 1199.3h0M819.2 1269.5h0M820.4 1322.2h0M821.6 1304.6h0M822.8 1216.8h0M824.0 1269.5h0M825.2 1287.0h0M826.4 1216.8h0M827.5 1199.3h0M828.7 1252.0h0M829.9 1216.8h0M831.1 1252.0h0M832.3 1199.3h0M833.5 1234.4h0M834.6 1216.8h0M835.8 1252.0h0M837.0 1199.3h0M838.2 1234.4h0M839.4 1216.8h0M840.6 1129.1h0M841.8 1234.4h0M842.9 1199.3h0M844.1 1216.8h0M845.3 1129.1h0M846.5 1094.0h0M847.7 1199.3h0M848.9 988.7h0M850.0 1234.4h0M851.2 1199.3h0M852.4 1164.2h0M853.6 1216.8h0M854.8 1181.8h0M856.0 1252.0h0M857.2 1199.3h0M858.3 1234.4h0M859.5 1287.0h0M860.7 1199.3h0M861.9 1252.0h0M863.1 1181.8h0M864.3 1234.4h0M865.4 1199.3h0M866.6 1164.2h0M867.8 1094.0h0M869.0 1129.1h0M870.2 1216.8h0M871.4 1164.2h0M872.6 1304.6h0M873.7 1181.8h0M874.9 1216.8h0M876.1 1146.7h0M877.3 1199.3h0M878.5 1006.2h0M879.7 1199.3h0M880.8 1146.7h0M882.0 1216.8h0M883.2 1164.2h0M884.4 1199.3h0M885.6 1146.7h0M886.8 1129.1h0M888.0 1287.0h0M889.1 1164.2h0M890.3 1023.8h0M891.5 1216.8h0M892.7 1146.7h0M893.9 1181.8h0M895.1 1129.1h0M896.2 1199.3h0M897.4 1146.7h0M898.6 1252.0h0M899.8 1164.2h0M901.0 1216.8h0M902.2 1146.7h0M903.4 1322.2h0M904.5 1181.8h0M905.7 1041.3h0M906.9 1216.8h0M908.1 1146.7h0M909.3 1199.3h0M910.5 1304.6h0M911.6 1164.2h0M912.8 1129.1h0M914.0 1216.8h0M915.2 1164.2h0M916.4 1199.3h0M917.6 1146.7h0M918.8 1234.4h0M919.9 1041.3h0M921.1 1164.2h0M922.3 1164.2h0M923.5 1374.8h0M924.7 1357.2h0M925.9 1322.2h0M927.1 1374.8h0M928.2 1339.7h0M929.4 1357.2h0M930.6 1322.2h0M931.8 1374.8h0M933.0 1339.7h0M934.2 1357.2h0M935.3 1322.2h0M936.5 1374.8h0M937.7 1357.2h0M938.9 1427.5h0M940.1 1374.8h0M941.3 1357.2h0M942.5 1392.3h0M943.6 1374.8h0M944.8 1409.9h0M946.0 1339.7h0M947.2 1322.2h0M948.4 1252.0h0M949.6 1287.0h0M950.7 1199.3h0M951.9 620.1h0M953.1 532.4h0M954.3 848.3h0M955.5 690.4h0M956.7 743.0h0M957.9 848.3h0M959.0 550.0h0M960.2 707.9h0M961.4 672.8h0M962.6 743.0h0M963.8 690.4h0M965.0 725.5h0M966.1 830.8h0M967.3 988.7h0M968.5 865.9h0M969.7 953.6h0M970.9 883.4h0M972.1 1023.8h0M973.3 918.5h0M974.4 1111.5h0M975.6 936.0h0M976.8 1041.3h0M978.0 848.3h0M979.2 760.5h0M980.4 1006.2h0M981.5 901.0h0M982.7 1111.5h0M983.9 953.6h0M985.1 1041.3h0M986.3 918.5h0M987.5 1023.8h0M988.7 971.1h0M989.8 1041.3h0M991.0 988.7h0M992.2 1076.5h0M993.4 1058.9h0M994.6 918.5h0M995.8 883.4h0M996.9 883.4h0M998.1 901.0h0M999.3 883.4h0M1000.5 1006.2h0M1001.7 883.4h0M1002.9 883.4h0M1004.1 918.5h0M1005.2 918.5h0M1006.4 883.4h0M1007.6 883.4h0M1008.8 901.0h0M1010.0 883.4h0M1011.2 883.4h0M1012.3 901.0h0M1013.5 883.4h0M1014.7 971.1h0M1015.9 918.5h0M1017.1 1041.3h0M1018.3 901.0h0M1019.5 971.1h0M1020.6 1058.9h0M1021.8 988.7h0M1023.0 1041.3h0M1024.2 953.6h0M1025.4 1023.8h0M1026.6 1111.5h0M1027.7 953.6h0M1028.9 1041.3h0M1030.1 988.7h0M1031.3 1058.9h0M1032.5 971.1h0M1033.7 1023.8h0M1034.9 1111.5h0M1036.0 988.7h0M1037.2 1041.3h0M1038.4 971.1h0M1039.6 1058.9h0M1040.8 1006.2h0M1042.0 1076.5h0M1043.1 1094.0h0M1044.3 1023.8h0M1045.5 1129.1h0M1046.7 1041.3h0M1047.9 1076.5h0M1049.1 988.7h0M1050.3 1094.0h0M1051.4 1146.7h0M1052.6 1058.9h0M1053.8 1111.5h0M1055.0 1076.5h0M1056.2 1041.3h0M1057.4 1129.1h0M1058.5 1076.5h0M1059.7 1111.5h0M1060.9 1129.1h0M1062.1 1146.7h0M1063.3 1216.8h0M1064.5 1146.7h0M1065.7 1199.3h0M1066.8 1181.8h0M1068.0 1234.4h0M1069.2 1199.3h0M1070.4 1269.5h0M1071.6 1216.8h0M1072.8 1234.4h0M1073.9 1216.8h0M1075.1 1234.4h0M1076.3 1216.8h0M1077.5 1234.4h0M1078.7 1216.8h0M1079.9 1287.0h0M1081.1 1234.4h0M1082.2 1304.6h0M1083.4 1322.2h0M1084.6 1234.4h0M1085.8 1339.7h0M1087.0 1322.2h0M1088.2 1357.2h0M1089.3 1339.7h0M1090.5 1357.2h0M1091.7 1374.8h0M1092.9 1339.7h0M1094.1 1357.2h0M1095.3 1374.8h0M1096.5 1374.8h0M1097.6 1392.3h0M1098.8 1374.8h0M1100.0 1374.8h0M1101.2 1392.3h0M1102.4 1374.8h0M1103.6 1374.8h0M1104.8 1392.3h0M1105.9 1374.8h0M1107.1 1374.8h0M1108.3 1357.2h0M1109.5 1374.8h0M1110.7 1357.2h0M1111.9 1374.8h0M1113.0 1357.2h0M1114.2 1374.8h0M1115.4 1357.2h0M1116.6 1357.2h0M1117.8 1374.8h0M1119.0 1392.3h0M1120.2 1392.3h0M1121.3 1374.8h0M1122.5 1392.3h0M1123.7 1374.8h0M1124.9 1392.3h0M1126.1 1374.8h0M1127.3 1409.9h0M1128.4 1392.3h0M1129.6 1374.8h0M1130.8 1392.3h0M1132.0 1374.8h0M1133.2 1234.4h0M1134.4 1374.8h0M1135.6 1304.6h0M1136.7 1374.8h0M1137.9 1322.2h0M1139.1 1392.3h0M1140.3 1304.6h0M1141.5 1129.1h0M1142.7 1216.8h0M1143.8 1076.5h0M1145.0 1023.8h0M1146.2 936.0h0M1147.4 953.6h0M1148.6 637.7h0M1149.8 865.9h0M1151.0 620.1h0M1152.1 901.0h0M1153.3 602.6h0M1154.5 848.3h0M1155.7 585.0h0M1156.9 813.2h0M1158.1 585.0h0M1159.2 392.0h0M1160.4 778.1h0M1161.6 374.5h0M1162.8 427.1h0M1164.0 883.4h0M1165.2 514.9h0M1166.4 550.0h0M1167.5 971.1h0M1168.7 865.9h0M1169.9 953.6h0M1171.1 865.9h0M1172.3 901.0h0M1173.5 918.5h0M1174.6 901.0h0M1175.8 918.5h0M1177.0 901.0h0M1178.2 918.5h0M1179.4 901.0h0M1180.6 936.0h0M1181.8 901.0h0M1182.9 918.5h0M1184.1 901.0h0M1185.3 918.5h0M1186.5 988.7h0M1187.7 901.0h0M1188.9 918.5h0M1190.0 901.0h0M1191.2 1006.2h0M1192.4 901.0h0M1193.6 1023.8h0M1194.8 918.5h0M1196.0 1041.3h0M1197.2 971.1h0M1198.3 1129.1h0M1199.5 1058.9h0M1200.7 1129.1h0M1201.9 1181.8h0M1203.1 1129.1h0M1204.3 1199.3h0M1205.4 1129.1h0M1206.6 1181.8h0M1207.8 1287.0h0M1209.0 1199.3h0M1210.2 1304.6h0M1211.4 1181.8h0M1212.6 1199.3h0M1213.7 1322.2h0M1214.9 1269.5h0M1216.1 1164.2h0M1217.3 1304.6h0M1218.5 1234.4h0M1219.7 1322.2h0M1220.8 1252.0h0M1222.0 1304.6h0M1223.2 1269.5h0M1224.4 1322.2h0M1225.6 1287.0h0M1226.8 1304.6h0M1228.0 1322.2h0M1229.1 1287.0h0M1230.3 1304.6h0M1231.5 1322.2h0M1232.7 1287.0h0M1233.9 1339.7h0M1235.1 1252.0h0M1236.2 1322.2h0M1237.4 1287.0h0M1238.6 1339.7h0M1239.8 1304.6h0M1241.0 1322.2h0M1242.2 1287.0h0M1243.4 1339.7h0M1244.5 1304.6h0M1245.7 1322.2h0M1246.9 1234.4h0M1248.1 1339.7h0M1249.3 1287.0h0M1250.5 1322.2h0M1251.6 1216.8h0M1252.8 1339.7h0M1254.0 1304.6h0M1255.2 1252.0h0M1256.4 1322.2h0M1257.6 1287.0h0M1258.8 1339.7h0M1259.9 1304.6h0M1261.1 1322.2h0M1262.3 1287.0h0M1263.5 1339.7h0M1264.7 1357.2h0M1265.9 1339.7h0M1267.0 1287.0h0M1268.2 1269.5h0M1269.4 1322.2h0M1270.6 1287.0h0M1271.8 1304.6h0M1273.0 1216.8h0M1274.2 1252.0h0M1275.3 1322.2h0M1276.5 1269.5h0M1277.7 1304.6h0M1278.9 1287.0h0M1280.1 1269.5h0M1281.3 1322.2h0M1282.5 1287.0h0M1283.6 1304.6h0M1284.8 1322.2h0M1286.0 1339.7h0M1287.2 1287.0h0M1288.4 1252.0h0M1289.6 1322.2h0M1290.7 1287.0h0M1291.9 1111.5h0M1293.1 1304.6h0M1294.3 1269.5h0M1295.5 1322.2h0M1296.7 1216.8h0M1297.9 1304.6h0M1299.0 1234.4h0M1300.2 1304.6h0M1301.4 1322.2h0M1302.6 1252.0h0M1303.8 1304.6h0M1305.0 1322.2h0M1306.1 1234.4h0M1307.3 1287.0h0M1308.5 1322.2h0M1309.7 1252.0h0M1310.9 1304.6h0M1312.1 1304.6h0M1313.3 1234.4h0M1314.4 1322.2h0M1315.6 1287.0h0M1316.8 1252.0h0M1318.0 1304.6h0M1319.2 1322.2h0M1320.4 1216.8h0M1321.5 1304.6h0M1322.7 1164.2h0M1323.9 1164.2h0M1325.1 1164.2h0M1326.3 1164.2h0M1327.5 1164.2h0M1328.7 1322.2h0M1329.8 1339.7h0M1331.0 1322.2h0M1332.2 1339.7h0M1333.4 1322.2h0M1334.6 1339.7h0M1335.8 1322.2h0M1336.9 1304.6h0M1338.1 1339.7h0M1339.3 1322.2h0M1340.5 1304.6h0M1341.7 1322.2h0M1342.9 1304.6h0M1344.1 1287.0h0M1345.2 1339.7h0M1346.4 1322.2h0M1347.6 1357.2h0M1348.8 1164.2h0M1350.0 1164.2h0M1351.2 1164.2h0M1352.3 1164.2h0M1353.5 1164.2h0M1354.7 1164.2h0M1355.9 1164.2h0M1357.1 1164.2h0M1358.3 1164.2h0M1359.5 1164.2h0M1360.6 1164.2h0M1361.8 1164.2h0M1363.0 1164.2h0M1364.2 1164.2h0M1365.4 1164.2h0M1366.6 1164.2h0M1367.7 1164.2h0M1368.9 1164.2h0M1370.1 1164.2h0M1371.3 1234.4h0M1372.5 1287.0h0M1373.7 1304.6h0M1374.9 1287.0h0M1376.0 1304.6h0M1377.2 1322.2h0M1378.4 1287.0h0M1379.6 1304.6h0M1380.8 1269.5h0M1382.0 1287.0h0M1383.1 1252.0h0M1384.3 1234.4h0M1385.5 1269.5h0M1386.7 1252.0h0M1387.9 1269.5h0M1389.1 1252.0h0M1390.3 1269.5h0M1391.4 1287.0h0M1392.6 1252.0h0M1393.8 1269.5h0M1395.0 1252.0h0M1396.2 1269.5h0M1397.4 1252.0h0M1398.5 1234.4h0M1399.7 1269.5h0M1400.9 1234.4h0M1402.1 1252.0h0M1403.3 1234.4h0M1404.5 1216.8h0M1405.7 1234.4h0M1406.8 1216.8h0M1408.0 1234.4h0M1409.2 1216.8h0M1410.4 1234.4h0M1411.6 1216.8h0M1412.8 1199.3h0M1413.9 1234.4h0M1415.1 1304.6h0M1416.3 1234.4h0M1417.5 1216.8h0M1418.7 1234.4h0M1419.9 1269.5h0M1421.1 1287.0h0M1422.2 1234.4h0M1423.4 1269.5h0M1424.6 1234.4h0M1425.8 1252.0h0M1427.0 1269.5h0M1428.2 1234.4h0M1429.3 1199.3h0M1430.5 1234.4h0M1431.7 1216.8h0M1432.9 1234.4h0M1434.1 1199.3h0M1435.3 1216.8h0M1436.5 1181.8h0M1437.6 1234.4h0M1438.8 1199.3h0M1440.0 1216.8h0M1441.2 1164.2h0M1442.4 1234.4h0M1443.6 1181.8h0M1444.8 1216.8h0M1445.9 1146.7h0M1447.1 1234.4h0M1448.3 1164.2h0M1449.5 1199.3h0M1450.7 1146.7h0M1451.9 1216.8h0M1453.0 1164.2h0M1454.2 1181.8h0M1455.4 1129.1h0M1456.6 1199.3h0M1457.8 1146.7h0M1459.0 1111.5h0M1460.2 1181.8h0M1461.3 1129.1h0M1462.5 1234.4h0M1463.7 1146.7h0M1464.9 1164.2h0M1466.1 1111.5h0M1467.3 1076.5h0M1468.4 1164.2h0M1469.6 1111.5h0M1470.8 1058.9h0M1472.0 848.3h0M1473.2 585.0h0M1474.4 1058.9h0M1475.6 690.4h0M1476.7 1041.3h0M1477.9 690.4h0M1479.1 918.5h0M1480.3 743.0h0M1481.5 1041.3h0M1482.7 778.1h0M1483.8 953.6h0M1485.0 918.5h0M1486.2 795.6h0M1487.4 865.9h0M1488.6 1041.3h0M1489.8 901.0h0M1491.0 988.7h0M1492.1 918.5h0M1493.3 1041.3h0M1494.5 901.0h0M1495.7 953.6h0M1496.9 901.0h0M1498.1 1023.8h0M1499.2 918.5h0M1500.4 1041.3h0M1501.6 1129.1h0M1502.8 1146.7h0M1504.0 953.6h0M1505.2 1076.5h0M1506.4 1041.3h0M1507.5 953.6h0M1508.7 1094.0h0M1509.9 1041.3h0M1511.1 1076.5h0M1512.3 1041.3h0M1513.5 971.1h0M1514.6 1094.0h0M1515.8 1041.3h0M1517.0 1269.5h0M1518.2 1269.5h0M1519.4 1287.0h0M1520.6 1304.6h0M1521.8 1269.5h0M1522.9 1287.0h0M1524.1 1269.5h0M1525.3 1304.6h0M1526.5 1234.4h0M1527.7 1216.8h0M1528.9 1287.0h0M1530.0 1339.7h0M1531.2 1269.5h0M1532.4 1304.6h0M1533.6 1357.2h0M1534.8 1287.0h0M1536.0 1322.2h0M1537.2 1287.0h0M1538.3 1339.7h0M1539.5 1374.8h0M1540.7 1304.6h0M1541.9 1357.2h0M1543.1 1287.0h0M1544.3 1322.2h0M1545.4 1216.8h0M1546.6 1374.8h0M1547.8 1304.6h0M1549.0 1339.7h0M1550.2 1304.6h0M1551.4 1357.2h0M1552.6 1339.7h0M1553.7 1304.6h0M1554.9 1252.0h0M1556.1 1392.3h0M1557.3 1304.6h0M1558.5 1339.7h0M1559.7 1216.8h0M1560.8 1287.0h0M1562.0 1181.8h0M1563.2 1164.2h0M1564.4 1252.0h0M1565.6 1199.3h0M1566.8 1269.5h0M1568.0 1216.8h0M1569.1 1304.6h0M1570.3 1199.3h0M1571.5 1287.0h0M1572.7 1216.8h0M1573.9 1392.3h0M1575.1 1234.4h0M1576.2 1304.6h0M1577.4 1252.0h0M1578.6 1374.8h0M1579.8 1304.6h0M1581.0 1357.2h0M1582.2 1322.2h0M1583.4 1374.8h0M1584.5 1392.3h0M1585.7 1304.6h0M1586.9 1374.8h0M1588.1 1111.5h0M1589.3 1357.2h0M1590.5 953.6h0M1591.6 1199.3h0M1592.8 953.6h0M1594.0 1374.8h0M1595.2 1146.7h0M1596.4 1357.2h0M1597.6 1374.8h0M1598.8 1357.2h0M1599.9 1392.3h0M1601.1 1409.9h0M1602.3 1374.8h0M1603.5 1409.9h0M1604.7 1392.3h0M1605.9 1409.9h0M1607.0 1357.2h0M1608.2 1392.3h0M1609.4 1374.8h0M1610.6 1392.3h0M1611.8 1357.2h0M1613.0 1357.2h0M1614.2 1374.8h0M1615.3 1357.2h0M1616.5 1339.7h0M1617.7 1357.2h0M1618.9 1269.5h0M1620.1 1287.0h0M1621.3 1129.1h0M1622.5 1216.8h0M1623.6 1357.2h0M1624.8 1006.2h0M1626.0 1269.5h0M1627.2 1058.9h0M1628.4 1234.4h0M1629.6 848.3h0M1630.7 1269.5h0M1631.9 1023.8h0M1633.1 1322.2h0M1634.3 953.6h0M1635.5 1252.0h0M1636.7 988.7h0M1637.9 1129.1h0M1639.0 971.1h0M1640.2 1269.5h0M1641.4 1234.4h0M1642.6 1339.7h0M1643.8 1252.0h0M1645.0 1287.0h0M1646.1 1252.0h0M1647.3 1304.6h0M1648.5 1164.2h0M1649.7 1269.5h0M1650.9 1181.8h0M1652.1 1252.0h0M1653.3 1304.6h0M1654.4 1181.8h0M1655.6 1234.4h0M1656.8 1164.2h0M1658.0 1216.8h0M1659.2 1164.2h0M1660.4 1322.2h0M1661.5 1181.8h0M1662.7 1234.4h0M1663.9 1164.2h0M1665.1 1216.8h0M1666.3 1146.7h0M1667.5 1234.4h0M1668.7 1252.0h0M1669.8 1146.7h0M1671.0 1216.8h0M1672.2 1164.2h0M1673.4 1146.7h0M1674.6 1234.4h0M1675.8 1181.8h0M1676.9 1216.8h0M1678.1 1181.8h0M1679.3 1164.2h0M1680.5 1234.4h0M1681.7 1181.8h0M1682.9 1216.8h0M1684.1 1252.0h0M1685.2 1287.0h0M1686.4 1199.3h0M1687.6 1181.8h0M1688.8 1234.4h0M1690.0 1146.7h0M1691.2 1252.0h0M1692.3 1181.8h0M1693.5 1058.9h0M1694.7 1252.0h0M1695.9 1111.5h0M1697.1 1252.0h0M1698.3 1058.9h0M1699.5 1234.4h0M1700.6 901.0h0M1701.8 971.1h0M1703.0 1094.0h0M1704.2 1023.8h0M1705.4 1111.5h0M1706.6 1058.9h0M1707.7 1129.1h0M1708.9 1146.7h0M1710.1 1164.2h0M1711.3 1041.3h0M1712.5 1111.5h0M1713.7 1058.9h0M1714.9 1129.1h0M1716.0 936.0h0M1717.2 1094.0h0M1718.4 1041.3h0M1719.6 1129.1h0M1720.8 1058.9h0M1722.0 1111.5h0M1723.1 988.7h0M1724.3 1146.7h0M1725.5 971.1h0M1726.7 1094.0h0M1727.9 1041.3h0M1729.1 1076.5h0M1730.3 1199.3h0M1731.4 1058.9h0M1732.6 1111.5h0M1733.8 1041.3h0M1735.0 1129.1h0M1736.2 1181.8h0M1737.4 988.7h0M1738.5 1129.1h0M1739.7 848.3h0M1740.9 743.0h0M1742.1 690.4h0M1743.3 795.6h0M1744.5 672.8h0M1745.7 778.1h0M1746.8 550.0h0M1748.0 743.0h0M1749.2 514.9h0M1750.4 567.5h0M1751.6 356.9h0M1752.8 655.2h0M1753.9 936.0h0M1755.1 514.9h0M1756.3 707.9h0M1757.5 514.9h0M1758.7 988.7h0M1759.9 567.5h0M1761.1 1006.2h0M1762.2 620.1h0M1763.4 1041.3h0M1764.6 760.5h0M1765.8 1058.9h0M1767.0 690.4h0M1768.2 918.5h0M1769.3 1111.5h0M1770.5 778.1h0M1771.7 1058.9h0M1772.9 672.8h0M1774.1 1058.9h0M1775.3 813.2h0M1776.5 953.6h0M1777.6 1058.9h0M1778.8 760.5h0M1780.0 1234.4h0M1781.2 1287.0h0M1782.4 1252.0h0M1783.6 1269.5h0M1784.7 1164.2h0M1785.9 1234.4h0M1787.1 1199.3h0M1788.3 1252.0h0M1789.5 1216.8h0M1790.7 1304.6h0M1791.9 1234.4h0M1793.0 1269.5h0M1794.2 1234.4h0M1795.4 1252.0h0M1796.6 1304.6h0M1797.8 1269.5h0M1799.0 1322.2h0M1800.2 1304.6h0M1801.3 1322.2h0M1802.5 1287.0h0M1803.7 1322.2h0M1804.9 1304.6h0M1806.1 1146.7h0M1807.3 1322.2h0M1808.4 1339.7h0M1809.6 1304.6h0M1810.8 1357.2h0M1812.0 1322.2h0M1813.2 1181.8h0M1814.4 1269.5h0M1815.6 1076.5h0M1816.7 1252.0h0" stroke="#0072BD" stroke-width="12.3" stroke-linecap="round" fill="none" shape-rendering="crispEdges"/>
<path d="M112.0 497.3L113.2 497.3L114.4 497.3L115.6 497.3L116.7 497.3L117.9 497.3L119.1 497.3L120.3 497.3L121.5 497.3L122.7 497.3L123.8 497.3L125.0 497.3L126.2 497.3L127.4 497.3L128.6 497.3L129.8 497.3L131.0 497.3L132.1 497.3L133.3 497.3L134.5 497.3L135.7 497.3L136.9 497.3L138.1 497.3L139.2 497.3L140.4 690.4L141.6 690.4L142.8 690.4L144.0 690.4L145.2 690.4L146.4 690.4L147.5 690.4L148.7 690.4L149.9 690.4L151.1 690.4L152.3 690.4L153.5 690.4L154.6 690.4L155.8 690.4L157.0 690.4L158.2 690.4L159.4 690.4L160.6 690.4L161.8 690.4L162.9 690.4L164.1 690.4L165.3 690.4L166.5 690.4L167.7 690.4L168.9 690.4L170.0 690.4L171.2 690.4L172.4 883.4L173.6 883.4L174.8 883.4L176.0 883.4L177.2 883.4L178.3 883.4L179.5 883.4L180.7 883.4L181.9 883.4L183.1 883.4L184.3 883.4L185.4 883.4L186.6 883.4L187.8 883.4L189.0 883.4L190.2 883.4L191.4 883.4L192.6 883.4L193.7 1041.3L194.9 1041.3L196.1 1041.3L197.3 1041.3L198.5 1041.3L199.7 1041.3L200.8 1041.3L202.0 1041.3L203.2 1041.3L204.4 1041.3L205.6 1041.3L206.8 1041.3L208.0 1041.3L209.1 1041.3L210.3 1041.3L211.5 1041.3L212.7 1041.3L213.9 1041.3L215.1 1041.3L216.3 1041.3L217.4 1041.3L218.6 1041.3L219.8 1041.3L221.0 1041.3L222.2 883.4L223.4 883.4L224.5 883.4L225.7 883.4L226.9 1076.5L228.1 1076.5L229.3 1076.5L230.5 1076.5L231.7 1076.5L232.8 1076.5L234.0 1076.5L235.2 1076.5L236.4 1076.5L237.6 1076.5L238.8 1076.5L239.9 1076.5L241.1 1076.5L242.3 1076.5L243.5 1076.5L244.7 1076.5L245.9 1076.5L247.1 1076.5L248.2 1076.5L249.4 1181.8L250.6 1181.8L251.8 1181.8L253.0 1181.8L254.2 1181.8L255.3 1181.8L256.5 1181.8L257.7 1181.8L258.9 1181.8L260.1 1181.8L261.3 1181.8L262.5 1181.8L263.6 1181.8L264.8 1181.8L266.0 1181.8L267.2 1199.3L268.4 1199.3L269.6 1199.3L270.7 1199.3L271.9 1199.3L273.1 1199.3L274.3 1199.3L275.5 1199.3L276.7 1199.3L277.9 1199.3L279.0 1199.3L280.2 1199.3L281.4 1199.3L282.6 1199.3L283.8 1181.8L285.0 1181.8L286.1 1181.8L287.3 1181.8L288.5 1181.8L289.7 1181.8L290.9 1181.8L292.1 1181.8L293.3 1181.8L294.4 1181.8L295.6 1041.3L296.8 1041.3L298.0 1041.3L299.2 1041.3L300.4 1041.3L301.5 1041.3L302.7 883.4L303.9 883.4L305.1 883.4L306.3 883.4L307.5 883.4L308.7 883.4L309.8 883.4L311.0 883.4L312.2 883.4L313.4 883.4L314.6 883.4L315.8 883.4L316.9 883.4L318.1 883.4L319.3 883.4L320.5 883.4L321.7 883.4L322.9 883.4L324.1 883.4L325.2 883.4L326.4 1076.5L327.6 1076.5L328.8 1076.5L330.0 1076.5L331.2 1076.5L332.3 1076.5L333.5 1076.5L334.7 1076.5L335.9 1076.5L337.1 1076.5L338.3 1076.5L339.5 1076.5L340.6 1076.5L341.8 1076.5L343.0 1181.8L344.2 1181.8L345.4 1181.8L346.6 1181.8L347.7 1181.8L348.9 1181.8L350.1 1181.8L351.3 1181.8L352.5 1181.8L353.7 1181.8L354.9 1181.8L356.0 1181.8L357.2 1181.8L358.4 1181.8L359.6 1181.8L360.8 1181.8L362.0 1181.8L363.1 1181.8L364.3 1181.8L365.5 1181.8L366.7 1181.8L367.9 1181.8L369.1 1181.8L370.3 1181.8L371.4 1181.8L372.6 1181.8L373.8 1181.8L375.0 1181.8L376.2 1041.3L377.4 1041.3L378.6 1041.3L379.7 1041.3L380.9 865.9L382.1 865.9L383.3 865.9L384.5 865.9L385.7 865.9L386.8 690.4L388.0 690.4L389.2 690.4L390.4 690.4L391.6 690.4L392.8 690.4L394.0 690.4L395.1 690.4L396.3 690.4L397.5 690.4L398.7 690.4L399.9 497.3L401.1 497.3L402.2 497.3L403.4 497.3L404.6 497.3L405.8 497.3L407.0 497.3L408.2 497.3L409.4 497.3L410.5 497.3L411.7 497.3L412.9 690.4L414.1 690.4L415.3 690.4L416.5 865.9L417.6 865.9L418.8 865.9L420.0 865.9L421.2 865.9L422.4 865.9L423.6 865.9L424.8 865.9L425.9 865.9L427.1 865.9L428.3 865.9L429.5 865.9L430.7 865.9L431.9 865.9L433.0 865.9L434.2 865.9L435.4 865.9L436.6 865.9L437.8 865.9L439.0 690.4L440.2 690.4L441.3 690.4L442.5 690.4L443.7 690.4L444.9 690.4L446.1 690.4L447.3 690.4L448.4 690.4L449.6 690.4L450.8 690.4L452.0 690.4L453.2 690.4L454.4 690.4L455.6 690.4L456.7 690.4L457.9 690.4L459.1 690.4L460.3 690.4L461.5 883.4L462.7 883.4L463.8 883.4L465.0 690.4L466.2 690.4L467.4 690.4L468.6 690.4L469.8 690.4L471.0 690.4L472.1 690.4L473.3 690.4L474.5 690.4L475.7 690.4L476.9 690.4L478.1 690.4L479.2 690.4L480.4 690.4L481.6 690.4L482.8 690.4L484.0 690.4L485.2 690.4L486.4 690.4L487.5 690.4L488.7 690.4L489.9 690.4L491.1 690.4L492.3 690.4L493.5 690.4L494.6 690.4L495.8 690.4L497.0 690.4L498.2 690.4L499.4 690.4L500.6 690.4L501.8 690.4L502.9 690.4L504.1 690.4L505.3 690.4L506.5 690.4L507.7 690.4L508.9 690.4L510.0 690.4L511.2 497.3L512.4 497.3L513.6 497.3L514.8 497.3L516.0 497.3L517.2 497.3L518.3 497.3L519.5 497.3L520.7 497.3L521.9 497.3L523.1 497.3L524.3 690.4L525.4 690.4L526.6 514.9L527.8 514.9L529.0 514.9L530.2 514.9L531.4 514.9L532.6 514.9L533.7 514.9L534.9 514.9L536.1 514.9L537.3 514.9L538.5 514.9L539.7 690.4L540.8 690.4L542.0 690.4L543.2 690.4L544.4 690.4L545.6 690.4L546.8 690.4L548.0 690.4L549.1 690.4L550.3 690.4L551.5 514.9L552.7 514.9L553.9 514.9L555.1 514.9L556.2 514.9L557.4 304.2L558.6 304.2L559.8 304.2L561.0 304.2L562.2 497.3L563.4 304.2L564.5 304.2L565.7 304.2L566.9 304.2L568.1 497.3L569.3 497.3L570.5 497.3L571.7 497.3L572.8 497.3L574.0 304.2L575.2 304.2L576.4 304.2L577.6 304.2L578.8 304.2L579.9 304.2L581.1 304.2L582.3 304.2L583.5 304.2L584.7 304.2L585.9 304.2L587.1 304.2L588.2 304.2L589.4 304.2L590.6 304.2L591.8 304.2L593.0 304.2L594.2 304.2L595.3 111.2L596.5 111.2L597.7 111.2L598.9 111.2L600.1 111.2L601.3 111.2L602.5 111.2L603.6 111.2L604.8 111.2L606.0 304.2L607.2 304.2L608.4 304.2L609.6 304.2L610.7 304.2L611.9 304.2L613.1 304.2L614.3 304.2L615.5 304.2L616.7 304.2L617.9 304.2L619.0 497.3L620.2 497.3L621.4 497.3L622.6 497.3L623.8 497.3L625.0 497.3L626.1 497.3L627.3 497.3L628.5 497.3L629.7 497.3L630.9 497.3L632.1 497.3L633.3 497.3L634.4 690.4L635.6 690.4L636.8 690.4L638.0 690.4L639.2 690.4L640.4 690.4L641.5 690.4L642.7 690.4L643.9 690.4L645.1 690.4L646.3 690.4L647.5 690.4L648.7 690.4L649.8 690.4L651.0 690.4L652.2 690.4L653.4 690.4L654.6 690.4L655.8 690.4L656.9 690.4L658.1 690.4L659.3 690.4L660.5 690.4L661.7 690.4L662.9 690.4L664.1 690.4L665.2 690.4L666.4 690.4L667.6 690.4L668.8 690.4L670.0 690.4L671.2 690.4L672.3 690.4L673.5 690.4L674.7 690.4L675.9 690.4L677.1 690.4L678.3 690.4L679.5 865.9L680.6 865.9L681.8 865.9L683.0 865.9L684.2 865.9L685.4 865.9L686.6 865.9L687.7 865.9L688.9 865.9L690.1 865.9L691.3 865.9L692.5 865.9L693.7 865.9L694.9 865.9L696.0 1041.3L697.2 883.4L698.4 883.4L699.6 883.4L700.8 883.4L702.0 883.4L703.1 883.4L704.3 883.4L705.5 690.4L706.7 690.4L707.9 690.4L709.1 690.4L710.3 690.4L711.4 690.4L712.6 690.4L713.8 690.4L715.0 690.4L716.2 690.4L717.4 690.4L718.5 690.4L719.7 690.4L720.9 690.4L722.1 690.4L723.3 690.4L724.5 690.4L725.7 690.4L726.8 497.3L728.0 497.3L729.2 497.3L730.4 690.4L731.6 690.4L732.8 690.4L734.0 690.4L735.1 690.4L736.3 690.4L737.5 690.4L738.7 690.4L739.9 690.4L741.1 690.4L742.2 690.4L743.4 883.4L744.6 883.4L745.8 883.4L747.0 1076.5L748.2 1076.5L749.4 1076.5L750.5 1076.5L751.7 1076.5L752.9 1076.5L754.1 1076.5L755.3 1076.5L756.5 1076.5L757.6 1076.5L758.8 1181.8L760.0 1181.8L761.2 1181.8L762.4 1181.8L763.6 1181.8L764.8 1181.8L765.9 1181.8L767.1 1181.8L768.3 1181.8L769.5 1181.8L770.7 1181.8L771.9 1181.8L773.0 1181.8L774.2 1181.8L775.4 1181.8L776.6 1181.8L777.8 1041.3L779.0 1041.3L780.2 1041.3L781.3 1041.3L782.5 1041.3L783.7 1041.3L784.9 1041.3L786.1 1041.3L787.3 1041.3L788.4 1041.3L789.6 1041.3L790.8 1041.3L792.0 1041.3L793.2 1041.3L794.4 1041.3L795.6 1041.3L796.7 1041.3L797.9 1041.3L799.1 1041.3L800.3 1041.3L801.5 1041.3L802.7 1041.3L803.8 1041.3L805.0 1041.3L806.2 883.4L807.4 883.4L808.6 883.4L809.8 883.4L811.0 883.4L812.1 883.4L813.3 725.5L814.5 725.5L815.7 725.5L816.9 725.5L818.1 725.5L819.2 725.5L820.4 725.5L821.6 936.0L822.8 936.0L824.0 936.0L825.2 936.0L826.4 936.0L827.5 936.0L828.7 936.0L829.9 936.0L831.1 936.0L832.3 936.0L833.5 936.0L834.6 936.0L835.8 936.0L837.0 936.0L838.2 936.0L839.4 936.0L840.6 936.0L841.8 936.0L842.9 936.0L844.1 936.0L845.3 936.0L846.5 936.0L847.7 936.0L848.9 936.0L850.0 1076.5L851.2 1076.5L852.4 1076.5L853.6 1076.5L854.8 1076.5L856.0 1076.5L857.2 1076.5L858.3 1076.5L859.5 1076.5L860.7 1076.5L861.9 1076.5L863.1 1076.5L864.3 1076.5L865.4 1076.5L866.6 1076.5L867.8 1076.5L869.0 1076.5L870.2 1076.5L871.4 1076.5L872.6 1076.5L873.7 1076.5L874.9 1076.5L876.1 1076.5L877.3 883.4L878.5 883.4L879.7 883.4L880.8 883.4L882.0 883.4L883.2 883.4L884.4 883.4L885.6 883.4L886.8 883.4L888.0 883.4L889.1 883.4L890.3 883.4L891.5 883.4L892.7 883.4L893.9 883.4L895.1 883.4L896.2 883.4L897.4 1041.3L898.6 1041.3L899.8 1041.3L901.0 1041.3L902.2 1041.3L903.4 1041.3L904.5 1041.3L905.7 1041.3L906.9 1041.3L908.1 1041.3L909.3 1041.3L910.5 1041.3L911.6 1041.3L912.8 1041.3L914.0 1041.3L915.2 1041.3L916.4 1041.3L917.6 1041.3L918.8 1041.3L919.9 1041.3L921.1 1181.8L922.3 1076.5L923.5 1076.5L924.7 1076.5L925.9 1076.5L927.1 1076.5L928.2 1076.5L929.4 1076.5L930.6 1076.5L931.8 1076.5L933.0 1076.5L934.2 1076.5L935.3 1076.5L936.5 1076.5L937.7 1076.5L938.9 1076.5L940.1 1076.5L941.3 1076.5L942.5 1076.5L943.6 1076.5L944.8 1076.5L946.0 936.0L947.2 936.0L948.4 725.5L949.6 725.5L950.7 725.5L951.9 514.9L953.1 514.9L954.3 514.9L955.5 514.9L956.7 514.9L957.9 514.9L959.0 514.9L960.2 690.4L961.4 690.4L962.6 690.4L963.8 690.4L965.0 690.4L966.1 497.3L967.3 497.3L968.5 497.3L969.7 497.3L970.9 497.3L972.1 497.3L973.3 497.3L974.4 497.3L975.6 497.3L976.8 497.3L978.0 497.3L979.2 497.3L980.4 497.3L981.5 497.3L982.7 497.3L983.9 497.3L985.1 497.3L986.3 497.3L987.5 497.3L988.7 497.3L989.8 497.3L991.0 497.3L992.2 497.3L993.4 690.4L994.6 690.4L995.8 690.4L996.9 690.4L998.1 690.4L999.3 690.4L1000.5 690.4L1001.7 865.9L1002.9 865.9L1004.1 865.9L1005.2 865.9L1006.4 865.9L1007.6 865.9L1008.8 865.9L1010.0 865.9L1011.2 865.9L1012.3 865.9L1013.5 865.9L1014.7 865.9L1015.9 865.9L1017.1 865.9L1018.3 690.4L1019.5 690.4L1020.6 690.4L1021.8 690.4L1023.0 690.4L1024.2 690.4L1025.4 690.4L1026.6 690.4L1027.7 690.4L1028.9 690.4L1030.1 690.4L1031.3 690.4L1032.5 690.4L1033.7 690.4L1034.9 690.4L1036.0 690.4L1037.2 690.4L1038.4 690.4L1039.6 690.4L1040.8 690.4L1042.0 690.4L1043.1 690.4L1044.3 690.4L1045.5 690.4L1046.7 497.3L1047.9 497.3L1049.1 497.3L1050.3 497.3L1051.4 497.3L1052.6 497.3L1053.8 497.3L1055.0 497.3L1056.2 497.3L1057.4 497.3L1058.5 497.3L1059.7 497.3L1060.9 497.3L1062.1 497.3L1063.3 497.3L1064.5 497.3L1065.7 497.3L1066.8 497.3L1068.0 497.3L1069.2 497.3L1070.4 497.3L1071.6 497.3L1072.8 497.3L1073.9 497.3L1075.1 497.3L1076.3 497.3L1077.5 497.3L1078.7 497.3L1079.9 497.3L1081.1 497.3L1082.2 497.3L1083.4 497.3L1084.6 497.3L1085.8 497.3L1087.0 497.3L1088.2 497.3L1089.3 497.3L1090.5 497.3L1091.7 497.3L1092.9 497.3L1094.1 497.3L1095.3 497.3L1096.5 497.3L1097.6 497.3L1098.8 497.3L1100.0 497.3L1101.2 497.3L1102.4 497.3L1103.6 497.3L1104.8 497.3L1105.9 690.4L1107.1 690.4L1108.3 690.4L1109.5 690.4L1110.7 690.4L1111.9 690.4L1113.0 690.4L1114.2 690.4L1115.4 690.4L1116.6 690.4L1117.8 690.4L1119.0 690.4L1120.2 690.4L1121.3 690.4L1122.5 690.4L1123.7 690.4L1124.9 690.4L1126.1 690.4L1127.3 690.4L1128.4 883.4L1129.6 883.4L1130.8 883.4L1132.0 883.4L1133.2 883.4L1134.4 725.5L1135.6 883.4L1136.7 725.5L1137.9 725.5L1139.1 725.5L1140.3 725.5L1141.5 514.9L1142.7 514.9L1143.8 514.9L1145.0 304.2L1146.2 497.3L1147.4 497.3L1148.6 497.3L1149.8 497.3L1151.0 497.3L1152.1 497.3L1153.3 497.3L1154.5 497.3L1155.7 497.3L1156.9 497.3L1158.1 497.3L1159.2 304.2L1160.4 304.2L1161.6 304.2L1162.8 304.2L1164.0 514.9L1165.2 514.9L1166.4 514.9L1167.5 725.5L1168.7 725.5L1169.9 725.5L1171.1 725.5L1172.3 725.5L1173.5 883.4L1174.6 883.4L1175.8 883.4L1177.0 883.4L1178.2 883.4L1179.4 883.4L1180.6 883.4L1181.8 883.4L1182.9 883.4L1184.1 883.4L1185.3 883.4L1186.5 883.4L1187.7 883.4L1188.9 883.4L1190.0 883.4L1191.2 883.4L1192.4 883.4L1193.6 883.4L1194.8 883.4L1196.0 883.4L1197.2 883.4L1198.3 883.4L1199.5 883.4L1200.7 883.4L1201.9 883.4L1203.1 883.4L1204.3 883.4L1205.4 883.4L1206.6 883.4L1207.8 883.4L1209.0 883.4L1210.2 883.4L1211.4 883.4L1212.6 883.4L1213.7 883.4L1214.9 883.4L1216.1 883.4L1217.3 883.4L1218.5 883.4L1219.7 883.4L1220.8 883.4L1222.0 883.4L1223.2 883.4L1224.4 883.4L1225.6 883.4L1226.8 690.4L1228.0 690.4L1229.1 690.4L1230.3 690.4L1231.5 497.3L1232.7 497.3L1233.9 497.3L1235.1 497.3L1236.2 497.3L1237.4 497.3L1238.6 497.3L1239.8 497.3L1241.0 497.3L1242.2 497.3L1243.4 497.3L1244.5 497.3L1245.7 497.3L1246.9 497.3L1248.1 497.3L1249.3 497.3L1250.5 497.3L1251.6 497.3L1252.8 497.3L1254.0 497.3L1255.2 497.3L1256.4 497.3L1257.6 690.4L1258.8 690.4L1259.9 690.4L1261.1 690.4L1262.3 690.4L1263.5 690.4L1264.7 690.4L1265.9 690.4L1267.0 690.4L1268.2 690.4L1269.4 690.4L1270.6 690.4L1271.8 690.4L1273.0 690.4L1274.2 690.4L1275.3 690.4L1276.5 690.4L1277.7 690.4L1278.9 690.4L1280.1 690.4L1281.3 690.4L1282.5 690.4L1283.6 690.4L1284.8 497.3L1286.0 690.4L1287.2 497.3L1288.4 497.3L1289.6 497.3L1290.7 497.3L1291.9 497.3L1293.1 497.3L1294.3 690.4L1295.5 690.4L1296.7 690.4L1297.9 690.4L1299.0 690.4L1300.2 690.4L1301.4 690.4L1302.6 690.4L1303.8 690.4L1305.0 690.4L1306.1 865.9L1307.3 865.9L1308.5 865.9L1309.7 865.9L1310.9 865.9L1312.1 865.9L1313.3 865.9L1314.4 1041.3L1315.6 1041.3L1316.8 1041.3L1318.0 1041.3L1319.2 1041.3L1320.4 1041.3L1321.5 1041.3L1322.7 1181.8L1323.9 1181.8L1325.1 1181.8L1326.3 1181.8L1327.5 1181.8L1328.7 1076.5L1329.8 1076.5L1331.0 1076.5L1332.2 1076.5L1333.4 1076.5L1334.6 1076.5L1335.8 1076.5L1336.9 1076.5L1338.1 1076.5L1339.3 1076.5L1340.5 1076.5L1341.7 1076.5L1342.9 1076.5L1344.1 1076.5L1345.2 1076.5L1346.4 936.0L1347.6 936.0L1348.8 1181.8L1350.0 1181.8L1351.2 1181.8L1352.3 1181.8L1353.5 1181.8L1354.7 1181.8L1355.9 1181.8L1357.1 1181.8L1358.3 1181.8L1359.5 1181.8L1360.6 1181.8L1361.8 1181.8L1363.0 1181.8L1364.2 1181.8L1365.4 1181.8L1366.6 1181.8L1367.7 1181.8L1368.9 1181.8L1370.1 1181.8L1371.3 1041.3L1372.5 1041.3L1373.7 1041.3L1374.9 1041.3L1376.0 1041.3L1377.2 1041.3L1378.4 1041.3L1379.6 1041.3L1380.8 1041.3L1382.0 1041.3L1383.1 1041.3L1384.3 1041.3L1385.5 1041.3L1386.7 1041.3L1387.9 1041.3L1389.1 1041.3L1390.3 1041.3L1391.4 1041.3L1392.6 1041.3L1393.8 1041.3L1395.0 1041.3L1396.2 1041.3L1397.4 1041.3L1398.5 1041.3L1399.7 1041.3L1400.9 1041.3L1402.1 1041.3L1403.3 1041.3L1404.5 1041.3L1405.7 1041.3L1406.8 1041.3L1408.0 1041.3L1409.2 1041.3L1410.4 1041.3L1411.6 883.4L1412.8 883.4L1413.9 883.4L1415.1 1076.5L1416.3 936.0L1417.5 936.0L1418.7 936.0L1419.9 936.0L1421.1 936.0L1422.2 936.0L1423.4 936.0L1424.6 936.0L1425.8 936.0L1427.0 936.0L1428.2 795.6L1429.3 795.6L1430.5 795.6L1431.7 655.2L1432.9 655.2L1434.1 655.2L1435.3 655.2L1436.5 655.2L1437.6 655.2L1438.8 655.2L1440.0 655.2L1441.2 655.2L1442.4 655.2L1443.6 655.2L1444.8 655.2L1445.9 655.2L1447.1 655.2L1448.3 655.2L1449.5 655.2L1450.7 655.2L1451.9 655.2L1453.0 655.2L1454.2 655.2L1455.4 655.2L1456.6 655.2L1457.8 655.2L1459.0 655.2L1460.2 795.6L1461.3 795.6L1462.5 795.6L1463.7 795.6L1464.9 795.6L1466.1 795.6L1467.3 795.6L1468.4 795.6L1469.6 795.6L1470.8 795.6L1472.0 795.6L1473.2 567.5L1474.4 567.5L1475.6 567.5L1476.7 567.5L1477.9 567.5L1479.1 567.5L1480.3 725.5L1481.5 725.5L1482.7 725.5L1483.8 725.5L1485.0 725.5L1486.2 725.5L1487.4 883.4L1488.6 883.4L1489.8 883.4L1491.0 883.4L1492.1 883.4L1493.3 883.4L1494.5 883.4L1495.7 883.4L1496.9 883.4L1498.1 883.4L1499.2 883.4L1500.4 883.4L1501.6 883.4L1502.8 883.4L1504.0 883.4L1505.2 883.4L1506.4 883.4L1507.5 883.4L1508.7 883.4L1509.9 883.4L1511.1 883.4L1512.3 690.4L1513.5 690.4L1514.6 690.4L1515.8 690.4L1517.0 883.4L1518.2 883.4L1519.4 883.4L1520.6 883.4L1521.8 883.4L1522.9 883.4L1524.1 883.4L1525.3 690.4L1526.5 690.4L1527.7 690.4L1528.9 690.4L1530.0 690.4L1531.2 690.4L1532.4 865.9L1533.6 865.9L1534.8 865.9L1536.0 865.9L1537.2 865.9L1538.3 865.9L1539.5 865.9L1540.7 865.9L1541.9 865.9L1543.1 865.9L1544.3 865.9L1545.4 865.9L1546.6 865.9L1547.8 865.9L1549.0 865.9L1550.2 865.9L1551.4 865.9L1552.6 865.9L1553.7 865.9L1554.9 865.9L1556.1 865.9L1557.3 690.4L1558.5 690.4L1559.7 690.4L1560.8 690.4L1562.0 690.4L1563.2 690.4L1564.4 690.4L1565.6 690.4L1566.8 690.4L1568.0 690.4L1569.1 690.4L1570.3 690.4L1571.5 690.4L1572.7 690.4L1573.9 690.4L1575.1 497.3L1576.2 497.3L1577.4 497.3L1578.6 497.3L1579.8 497.3L1581.0 497.3L1582.2 497.3L1583.4 497.3L1584.5 497.3L1585.7 497.3L1586.9 497.3L1588.1 865.9L1589.3 865.9L1590.5 865.9L1591.6 865.9L1592.8 865.9L1594.0 690.4L1595.2 690.4L1596.4 690.4L1597.6 690.4L1598.8 497.3L1599.9 497.3L1601.1 497.3L1602.3 497.3L1603.5 497.3L1604.7 497.3L1605.9 497.3L1607.0 497.3L1608.2 497.3L1609.4 497.3L1610.6 497.3L1611.8 497.3L1613.0 497.3L1614.2 497.3L1615.3 497.3L1616.5 497.3L1617.7 497.3L1618.9 497.3L1620.1 497.3L1621.3 497.3L1622.5 497.3L1623.6 497.3L1624.8 497.3L1626.0 497.3L1627.2 497.3L1628.4 497.3L1629.6 497.3L1630.7 497.3L1631.9 497.3L1633.1 497.3L1634.3 497.3L1635.5 497.3L1636.7 497.3L1637.9 497.3L1639.0 497.3L1640.2 497.3L1641.4 497.3L1642.6 497.3L1643.8 497.3L1645.0 497.3L1646.1 497.3L1647.3 497.3L1648.5 497.3L1649.7 497.3L1650.9 497.3L1652.1 497.3L1653.3 497.3L1654.4 497.3L1655.6 497.3L1656.8 497.3L1658.0 497.3L1659.2 497.3L1660.4 497.3L1661.5 497.3L1662.7 497.3L1663.9 497.3L1665.1 497.3L1666.3 497.3L1667.5 497.3L1668.7 497.3L1669.8 497.3L1671.0 497.3L1672.2 497.3L1673.4 497.3L1674.6 497.3L1675.8 497.3L1676.9 497.3L1678.1 497.3L1679.3 497.3L1680.5 497.3L1681.7 497.3L1682.9 497.3L1684.1 497.3L1685.2 497.3L1686.4 497.3L1687.6 497.3L1688.8 497.3L1690.0 497.3L1691.2 690.4L1692.3 690.4L1693.5 690.4L1694.7 690.4L1695.9 690.4L1697.1 690.4L1698.3 690.4L1699.5 883.4L1700.6 883.4L1701.8 883.4L1703.0 883.4L1704.2 883.4L1705.4 883.4L1706.6 883.4L1707.7 883.4L1708.9 883.4L1710.1 883.4L1711.3 883.4L1712.5 883.4L1713.7 883.4L1714.9 883.4L1716.0 883.4L1717.2 690.4L1718.4 497.3L1719.6 497.3L1720.8 497.3L1722.0 304.2L1723.1 304.2L1724.3 304.2L1725.5 304.2L1726.7 304.2L1727.9 304.2L1729.1 304.2L1730.3 497.3L1731.4 690.4L1732.6 690.4L1733.8 690.4L1735.0 690.4L1736.2 690.4L1737.4 497.3L1738.5 497.3L1739.7 497.3L1740.9 497.3L1742.1 497.3L1743.3 497.3L1744.5 497.3L1745.7 497.3L1746.8 497.3L1748.0 497.3L1749.2 497.3L1750.4 304.2L1751.6 497.3L1752.8 304.2L1753.9 497.3L1755.1 497.3L1756.3 497.3L1757.5 497.3L1758.7 497.3L1759.9 497.3L1761.1 304.2L1762.2 304.2L1763.4 304.2L1764.6 304.2L1765.8 304.2L1767.0 304.2L1768.2 304.2L1769.3 304.2L1770.5 304.2L1771.7 304.2L1772.9 304.2L1774.1 304.2L1775.3 304.2L1776.5 304.2L1777.6 93.7L1778.8 304.2L1780.0 304.2L1781.2 304.2L1782.4 497.3L1783.6 497.3L1784.7 497.3L1785.9 497.3L1787.1 497.3L1788.3 690.4L1789.5 690.4L1790.7 690.4L1791.9 690.4L1793.0 690.4L1794.2 690.4L1795.4 690.4L1796.6 690.4L1797.8 690.4L1799.0 690.4L1800.2 690.4L1801.3 690.4L1802.5 690.4L1803.7 690.4L1804.9 690.4L1806.1 690.4L1807.3 690.4L1808.4 690.4L1809.6 690.4L1810.8 690.4L1812.0 690.4L1813.2 497.3L1814.4 497.3L1815.6 497.3L1816.7 497.3" stroke="#D95319" stroke-width="4.0" fill="none" stroke-linejoin="round" shape-rendering="crispEdges"/>
<path d="M112.0 497.3h0M113.2 497.3h0M114.4 497.3h0M115.6 497.3h0M116.7 497.3h0M117.9 497.3h0M119.1 497.3h0M120.3 497.3h0M121.5 497.3h0M122.7 497.3h0M123.8 497.3h0M125.0 497.3h0M126.2 497.3h0M127.4 497.3h0M128.6 497.3h0M129.8 497.3h0M131.0 497.3h0M132.1 497.3h0M133.3 497.3h0M134.5 497.3h0M135.7 497.3h0M136.9 497.3h0M138.1 497.3h0M139.2 497.3h0M140.4 690.4h0M141.6 690.4h0M142.8 690.4h0M144.0 690.4h0M145.2 690.4h0M146.4 690.4h0M147.5 690.4h0M148.7 690.4h0M149.9 690.4h0M151.1 690.4h0M152.3 690.4h0M153.5 690.4h0M154.6 690.4h0M155.8 690.4h0M157.0 690.4h0M158.2 690.4h0M159.4 690.4h0M160.6 690.4h0M161.8 690.4h0M162.9 690.4h0M164.1 690.4h0M165.3 690.4h0M166.5 690.4h0M167.7 690.4h0M168.9 690.4h0M170.0 690.4h0M171.2 690.4h0M172.4 883.4h0M173.6 883.4h0M174.8 883.4h0M176.0 883.4h0M177.2 883.4h0M178.3 883.4h0M179.5 883.4h0M180.7 883.4h0M181.9 883.4h0M183.1 883.4h0M184.3 883.4h0M185.4 883.4h0M186.6 883.4h0M187.8 883.4h0M189.0 883.4h0M190.2 883.4h0M191.4 883.4h0M192.6 883.4h0M193.7 1041.3h0M194.9 1041.3h0M196.1 1041.3h0M197.3 1041.3h0M198.5 1041.3h0M199.7 1041.3h0M200.8 1041.3h0M202.0 1041.3h0M203.2 1041.3h0M204.4 1041.3h0M205.6 1041.3h0M206.8 1041.3h0M208.0 1041.3h0M209.1 1041.3h0M210.3 1041.3h0M211.5 1041.3h0M212.7 1041.3h0M213.9 1041.3h0M215.1 1041.3h0M216.3 1041.3h0M217.4 1041.3h0M218.6 1041.3h0M219.8 1041.3h0M221.0 1041.3h0M222.2 883.4h0M223.4 883.4h0M224.5 883.4h0M225.7 883.4h0M226.9 1076.5h0M228.1 1076.5h0M229.3 1076.5h0M230.5 1076.5h0M231.7 1076.5h0M232.8 1076.5h0M234.0 1076.5h0M235.2 1076.5h0M236.4 1076.5h0M237.6 1076.5h0M238.8 1076.5h0M239.9 1076.5h0M241.1 1076.5h0M242.3 1076.5h0M243.5 1076.5h0M244.7 1076.5h0M245.9 1076.5h0M247.1 1076.5h0M248.2 1076.5h0M249.4 1181.8h0M250.6 1181.8h0M251.8 1181.8h0M253.0 1181.8h0M254.2 1181.8h0M255.3 1181.8h0M256.5 1181.8h0M257.7 1181.8h0M258.9 1181.8h0M260.1 1181.8h0M261.3 1181.8h0M262.5 1181.8h0M263.6 1181.8h0M264.8 1181.8h0M266.0 1181.8h0M267.2 1199.3h0M268.4 1199.3h0M269.6 1199.3h0M270.7 1199.3h0M271.9 1199.3h0M273.1 1199.3h0M274.3 1199.3h0M275.5 1199.3h0M276.7 1199.3h0M277.9 1199.3h0M279.0 1199.3h0M280.2 1199.3h0M281.4 1199.3h0M282.6 1199.3h0M283.8 1181.8h0M285.0 1181.8h0M286.1 1181.8h0M287.3 1181.8h0M288.5 1181.8h0M289.7 1181.8h0M290.9 1181.8h0M292.1 1181.8h0M293.3 1181.8h0M294.4 1181.8h0M295.6 1041.3h0M296.8 1041.3h0M298.0 1041.3h0M299.2 1041.3h0M300.4 1041.3h0M301.5 1041.3h0M302.7 883.4h0M303.9 883.4h0M305.1 883.4h0M306.3 883.4h0M307.5 883.4h0M308.7 883.4h0M309.8 883.4h0M311.0 883.4h0M312.2 883.4h0M313.4 883.4h0M314.6 883.4h0M315.8 883.4h0M316.9 883.4h0M318.1 883.4h0M319.3 883.4h0M320.5 883.4h0M321.7 883.4h0M322.9 883.4h0M324.1 883.4h0M325.2 883.4h0M326.4 1076.5h0M327.6 1076.5h0M328.8 1076.5h0M330.0 1076.5h0M331.2 1076.5h0M332.3 1076.5h0M333.5 1076.5h0M334.7 1076.5h0M335.9 1076.5h0M337.1 1076.5h0M338.3 1076.5h0M339.5 1076.5h0M340.6 1076.5h0M341.8 1076.5h0M343.0 1181.8h0M344.2 1181.8h0M345.4 1181.8h0M346.6 1181.8h0M347.7 1181.8h0M348.9 1181.8h0M350.1 1181.8h0M351.3 1181.8h0M352.5 1181.8h0M353.7 1181.8h0M354.9 1181.8h0M356.0 1181.8h0M357.2 1181.8h0M358.4 1181.8h0M359.6 1181.8h0M360.8 1181.8h0M362.0 1181.8h0M363.1 1181.8h0M364.3 1181.8h0M365.5 1181.8h0M366.7 1181.8h0M367.9 1181.8h0M369.1 1181.8h0M370.3 1181.8h0M371.4 1181.8h0M372.6 1181.8h0M373.8 1181.8h0M375.0 1181.8h0M376.2 1041.3h0M377.4 1041.3h0M378.6 1041.3h0M379.7 1041.3h0M380.9 865.9h0M382.1 865.9h0M383.3 865.9h0M384.5 865.9h0M385.7 865.9h0M386.8 690.4h0M388.0 690.4h0M389.2 690.4h0M390.4 690.4h0M391.6 690.4h0M392.8 690.4h0M394.0 690.4h0M395.1 690.4h0M396.3 690.4h0M397.5 690.4h0M398.7 690.4h0M399.9 497.3h0M401.1 497.3h0M402.2 497.3h0M403.4 497.3h0M404.6 497.3h0M405.8 497.3h0M407.0 497.3h0M408.2 497.3h0M409.4 497.3h0M410.5 497.3h0M411.7 497.3h0M412.9 690.4h0M414.1 690.4h0M415.3 690.4h0M416.5 865.9h0M417.6 865.9h0M418.8 865.9h0M420.0 865.9h0M421.2 865.9h0M422.4 865.9h0M423.6 865.9h0M424.8 865.9h0M425.9 865.9h0M427.1 865.9h0M428.3 865.9h0M429.5 865.9h0M430.7 865.9h0M431.9 865.9h0M433.0 865.9h0M434.2 865.9h0M435.4 865.9h0M436.6 865.9h0M437.8 865.9h0M439.0 690.4h0M440.2 690.4h0M441.3 690.4h0M442.5 690.4h0M443.7 690.4h0M444.9 690.4h0M446.1 690.4h0M447.3 690.4h0M448.4 690.4h0M449.6 690.4h0M450.8 690.4h0M452.0 690.4h0M453.2 690.4h0M454.4 690.4h0M455.6 690.4h0M456.7 690.4h0M457.9 690.4h0M459.1 690.4h0M460.3 690.4h0M461.5 883.4h0M462.7 883.4h0M463.8 883.4h0M465.0 690.4h0M466.2 690.4h0M467.4 690.4h0M468.6 690.4h0M469.8 690.4h0M471.0 690.4h0M472.1 690.4h0M473.3 690.4h0M474.5 690.4h0M475.7 690.4h0M476.9 690.4h0M478.1 690.4h0M479.2 690.4h0M480.4 690.4h0M481.6 690.4h0M482.8 690.4h0M484.0 690.4h0M485.2 690.4h0M486.4 690.4h0M487.5 690.4h0M488.7 690.4h0M489.9 690.4h0M491.1 690.4h0M492.3 690.4h0M493.5 690.4h0M494.6 690.4h0M495.8 690.4h0M497.0 690.4h0M498.2 690.4h0M499.4 690.4h0M500.6 690.4h0M501.8 690.4h0M502.9 690.4h0M504.1 690.4h0M505.3 690.4h0M506.5 690.4h0M507.7 690.4h0M508.9 690.4h0M510.0 690.4h0M511.2 497.3h0M512.4 497.3h0M513.6 497.3h0M514.8 497.3h0M516.0 497.3h0M517.2 497.3h0M518.3 497.3h0M519.5 497.3h0M520.7 497.3h0M521.9 497.3h0M523.1 497.3h0M524.3 690.4h0M525.4 690.4h0M526.6 514.9h0M527.8 514.9h0M529.0 514.9h0M530.2 514.9h0M531.4 514.9h0M532.6 514.9h0M533.7 514.9h0M534.9 514.9h0M536.1 514.9h0M537.3 514.9h0M538.5 514.9h0M539.7 690.4h0M540.8 690.4h0M542.0 690.4h0M543.2 690.4h0M544.4 690.4h0M545.6 690.4h0M546.8 690.4h0M548.0 690.4h0M549.1 690.4h0M550.3 690.4h0M551.5 514.9h0M552.7 514.9h0M553.9 514.9h0M555.1 514.9h0M556.2 514.9h0M557.4 304.2h0M558.6 304.2h0M559.8 304.2h0M561.0 304.2h0M562.2 497.3h0M563.4 304.2h0M564.5 304.2h0M565.7 304.2h0M566.9 304.2h0M568.1 497.3h0M569.3 497.3h0M570.5 497.3h0M571.7 497.3h0M572.8 497.3h0M574.0 304.2h0M575.2 304.2h0M576.4 304.2h0M577.6 304.2h0M578.8 304.2h0M579.9 304.2h0M581.1 304.2h0M582.3 304.2h0M583.5 304.2h0M584.7 304.2h0M585.9 304.2h0M587.1 304.2h0M588.2 304.2h0M589.4 304.2h0M590.6 304.2h0M591.8 304.2h0M593.0 304.2h0M594.2 304.2h0M595.3 111.2h0M596.5 111.2h0M597.7 111.2h0M598.9 111.2h0M600.1 111.2h0M601.3 111.2h0M602.5 111.2h0M603.6 111.2h0M604.8 111.2h0M606.0 304.2h0M607.2 304.2h0M608.4 304.2h0M609.6 304.2h0M610.7 304.2h0M611.9 304.2h0M613.1 304.2h0M614.3 304.2h0M615.5 304.2h0M616.7 304.2h0M617.9 304.2h0M619.0 497.3h0M620.2 497.3h0M621.4 497.3h0M622.6 497.3h0M623.8 497.3h0M625.0 497.3h0M626.1 497.3h0M627.3 497.3h0M628.5 497.3h0M629.7 497.3h0M630.9 497.3h0M632.1 497.3h0M633.3 497.3h0M634.4 690.4h0M635.6 690.4h0M636.8 690.4h0M638.0 690.4h0M639.2 690.4h0M640.4 690.4h0M641.5 690.4h0M642.7 690.4h0M643.9 690.4h0M645.1 690.4h0M646.3 690.4h0M647.5 690.4h0M648.7 690.4h0M649.8 690.4h0M651.0 690.4h0M652.2 690.4h0M653.4 690.4h0M654.6 690.4h0M655.8 690.4h0M656.9 690.4h0M658.1 690.4h0M659.3 690.4h0M660.5 690.4h0M661.7 690.4h0M662.9 690.4h0M664.1 690.4h0M665.2 690.4h0M666.4 690.4h0M667.6 690.4h0M668.8 690.4h0M670.0 690.4h0M671.2 690.4h0M672.3 690.4h0M673.5 690.4h0M674.7 690.4h0M675.9 690.4h0M677.1 690.4h0M678.3 690.4h0M679.5 865.9h0M680.6 865.9h0M681.8 865.9h0M683.0 865.9h0M684.2 865.9h0M685.4 865.9h0M686.6 865.9h0M687.7 865.9h0M688.9 865.9h0M690.1 865.9h0M691.3 865.9h0M692.5 865.9h0M693.7 865.9h0M694.9 865.9h0M696.0 1041.3h0M697.2 883.4h0M698.4 883.4h0M699.6 883.4h0M700.8 883.4h0M702.0 883.4h0M703.1 883.4h0M704.3 883.4h0M705.5 690.4h0M706.7 690.4h0M707.9 690.4h0M709.1 690.4h0M710.3 690.4h0M711.4 690.4h0M712.6 690.4h0M713.8 690.4h0M715.0 690.4h0M716.2 690.4h0M717.4 690.4h0M718.5 690.4h0M719.7 690.4h0M720.9 690.4h0M722.1 690.4h0M723.3 690.4h0M724.5 690.4h0M725.7 690.4h0M726.8 497.3h0M728.0 497.3h0M729.2 497.3h0M730.4 690.4h0M731.6 690.4h0M732.8 690.4h0M734.0 690.4h0M735.1 690.4h0M736.3 690.4h0M737.5 690.4h0M738.7 690.4h0M739.9 690.4h0M741.1 690.4h0M742.2 690.4h0M743.4 883.4h0M744.6 883.4h0M745.8 883.4h0M747.0 1076.5h0M748.2 1076.5h0M749.4 1076.5h0M750.5 1076.5h0M751.7 1076.5h0M752.9 1076.5h0M754.1 1076.5h0M755.3 1076.5h0M756.5 1076.5h0M757.6 1076.5h0M758.8 1181.8h0M760.0 1181.8h0M761.2 1181.8h0M762.4 1181.8h0M763.6 1181.8h0M764.8 1181.8h0M765.9 1181.8h0M767.1 1181.8h0M768.3 1181.8h0M769.5 1181.8h0M770.7 1181.8h0M771.9 1181.8h0M773.0 1181.8h0M774.2 1181.8h0M775.4 1181.8h0M776.6 1181.8h0M777.8 1041.3h0M779.0 1041.3h0M780.2 1041.3h0M781.3 1041.3h0M782.5 1041.3h0M783.7 1041.3h0M784.9 1041.3h0M786.1 1041.3h0M787.3 1041.3h0M788.4 1041.3h0M789.6 1041.3h0M790.8 1041.3h0M792.0 1041.3h0M793.2 1041.3h0M794.4 1041.3h0M795.6 1041.3h0M796.7 1041.3h0M797.9 1041.3h0M799.1 1041.3h0M800.3 1041.3h0M801.5 1041.3h0M802.7 1041.3h0M803.8 1041.3h0M805.0 1041.3h0M806.2 883.4h0M807.4 883.4h0M808.6 883.4h0M809.8 883.4h0M811.0 883.4h0M812.1 883.4h0M813.3 725.5h0M814.5 725.5h0M815.7 725.5h0M816.9 725.5h0M818.1 725.5h0M819.2 725.5h0M820.4 725.5h0M821.6 936.0h0M822.8 936.0h0M824.0 936.0h0M825.2 936.0h0M826.4 936.0h0M827.5 936.0h0M828.7 936.0h0M829.9 936.0h0M831.1 936.0h0M832.3 936.0h0M833.5 936.0h0M834.6 936.0h0M835.8 936.0h0M837.0 936.0h0M838.2 936.0h0M839.4 936.0h0M840.6 936.0h0M841.8 936.0h0M842.9 936.0h0M844.1 936.0h0M845.3 936.0h0M846.5 936.0h0M847.7 936.0h0M848.9 936.0h0M850.0 1076.5h0M851.2 1076.5h0M852.4 1076.5h0M853.6 1076.5h0M854.8 1076.5h0M856.0 1076.5h0M857.2 1076.5h0M858.3 1076.5h0M859.5 1076.5h0M860.7 1076.5h0M861.9 1076.5h0M863.1 1076.5h0M864.3 1076.5h0M865.4 1076.5h0M866.6 1076.5h0M867.8 1076.5h0M869.0 1076.5h0M870.2 1076.5h0M871.4 1076.5h0M872.6 1076.5h0M873.7 1076.5h0M874.9 1076.5h0M876.1 1076.5h0M877.3 883.4h0M878.5 883.4h0M879.7 883.4h0M880.8 883.4h0M882.0 883.4h0M883.2 883.4h0M884.4 883.4h0M885.6 883.4h0M886.8 883.4h0M888.0 883.4h0M889.1 883.4h0M890.3 883.4h0M891.5 883.4h0M892.7 883.4h0M893.9 883.4h0M895.1 883.4h0M896.2 883.4h0M897.4 1041.3h0M898.6 1041.3h0M899.8 1041.3h0M901.0 1041.3h0M902.2 1041.3h0M903.4 1041.3h0M904.5 1041.3h0M905.7 1041.3h0M906.9 1041.3h0M908.1 1041.3h0M909.3 1041.3h0M910.5 1041.3h0M911.6 1041.3h0M912.8 1041.3h0M914.0 1041.3h0M915.2 1041.3h0M916.4 1041.3h0M917.6 1041.3h0M918.8 1041.3h0M919.9 1041.3h0M921.1 1181.8h0M922.3 1076.5h0M923.5 1076.5h0M924.7 1076.5h0M925.9 1076.5h0M927.1 1076.5h0M928.2 1076.5h0M929.4 1076.5h0M930.6 1076.5h0M931.8 1076.5h0M933.0 1076.5h0M934.2 1076.5h0M935.3 1076.5h0M936.5 1076.5h0M937.7 1076.5h0M938.9 1076.5h0M940.1 1076.5h0M941.3 1076.5h0M942.5 1076.5h0M943.6 1076.5h0M944.8 1076.5h0M946.0 936.0h0M947.2 936.0h0M948.4 725.5h0M949.6 725.5h0M950.7 725.5h0M951.9 514.9h0M953.1 514.9h0M954.3 514.9h0M955.5 514.9h0M956.7 514.9h0M957.9 514.9h0M959.0 514.9h0M960.2 690.4h0M961.4 690.4h0M962.6 690.4h0M963.8 690.4h0M965.0 690.4h0M966.1 497.3h0M967.3 497.3h0M968.5 497.3h0M969.7 497.3h0M970.9 497.3h0M972.1 497.3h0M973.3 497.3h0M974.4 497.3h0M975.6 497.3h0M976.8 497.3h0M978.0 497.3h0M979.2 497.3h0M980.4 497.3h0M981.5 497.3h0M982.7 497.3h0M983.9 497.3h0M985.1 497.3h0M986.3 497.3h0M987.5 497.3h0M988.7 497.3h0M989.8 497.3h0M991.0 497.3h0M992.2 497.3h0M993.4 690.4h0M994.6 690.4h0M995.8 690.4h0M996.9 690.4h0M998.1 690.4h0M999.3 690.4h0M1000.5 690.4h0M1001.7 865.9h0M1002.9 865.9h0M1004.1 865.9h0M1005.2 865.9h0M1006.4 865.9h0M1007.6 865.9h0M1008.8 865.9h0M1010.0 865.9h0M1011.2 865.9h0M1012.3 865.9h0M1013.5 865.9h0M1014.7 865.9h0M1015.9 865.9h0M1017.1 865.9h0M1018.3 690.4h0M1019.5 690.4h0M1020.6 690.4h0M1021.8 690.4h0M1023.0 690.4h0M1024.2 690.4h0M1025.4 690.4h0M1026.6 690.4h0M1027.7 690.4h0M1028.9 690.4h0M1030.1 690.4h0M1031.3 690.4h0M1032.5 690.4h0M1033.7 690.4h0M1034.9 690.4h0M1036.0 690.4h0M1037.2 690.4h0M1038.4 690.4h0M1039.6 690.4h0M1040.8 690.4h0M1042.0 690.4h0M1043.1 690.4h0M1044.3 690.4h0M1045.5 690.4h0M1046.7 497.3h0M1047.9 497.3h0M1049.1 497.3h0M1050.3 497.3h0M1051.4 497.3h0M1052.6 497.3h0M1053.8 497.3h0M1055.0 497.3h0M1056.2 497.3h0M1057.4 497.3h0M1058.5 497.3h0M1059.7 497.3h0M1060.9 497.3h0M1062.1 497.3h0M1063.3 497.3h0M1064.5 497.3h0M1065.7 497.3h0M1066.8 497.3h0M1068.0 497.3h0M1069.2 497.3h0M1070.4 497.3h0M1071.6 497.3h0M1072.8 497.3h0M1073.9 497.3h0M1075.1 497.3h0M1076.3 497.3h0M1077.5 497.3h0M1078.7 497.3h0M1079.9 497.3h0M1081.1 497.3h0M1082.2 497.3h0M1083.4 497.3h0M1084.6 497.3h0M1085.8 497.3h0M1087.0 497.3h0M1088.2 497.3h0M1089.3 497.3h0M1090.5 497.3h0M1091.7 497.3h0M1092.9 497.3h0M1094.1 497.3h0M1095.3 497.3h0M1096.5 497.3h0M1097.6 497.3h0M1098.8 497.3h0M1100.0 497.3h0M1101.2 497.3h0M1102.4 497.3h0M1103.6 497.3h0M1104.8 497.3h0M1105.9 690.4h0M1107.1 690.4h0M1108.3 690.4h0M1109.5 690.4h0M1110.7 690.4h0M1111.9 690.4h0M1113.0 690.4h0M1114.2 690.4h0M1115.4 690.4h0M1116.6 690.4h0M1117.8 690.4h0M1119.0 690.4h0M1120.2 690.4h0M1121.3 690.4h0M1122.5 690.4h0M1123.7 690.4h0M1124.9 690.4h0M1126.1 690.4h0M1127.3 690.4h0M1128.4 883.4h0M1129.6 883.4h0M1130.8 883.4h0M1132.0 883.4h0M1133.2 883.4h0M1134.4 725.5h0M1135.6 883.4h0M1136.7 725.5h0M1137.9 725.5h0M1139.1 725.5h0M1140.3 725.5h0M1141.5 514.9h0M1142.7 514.9h0M1143.8 514.9h0M1145.0 304.2h0M1146.2 497.3h0M1147.4 497.3h0M1148.6 497.3h0M1149.8 497.3h0M1151.0 497.3h0M1152.1 497.3h0M1153.3 497.3h0M1154.5 497.3h0M1155.7 497.3h0M1156.9 497.3h0M1158.1 497.3h0M1159.2 304.2h0M1160.4 304.2h0M1161.6 304.2h0M1162.8 304.2h0M1164.0 514.9h0M1165.2 514.9h0M1166.4 514.9h0M1167.5 725.5h0M1168.7 725.5h0M1169.9 725.5h0M1171.1 725.5h0M1172.3 725.5h0M1173.5 883.4h0M1174.6 883.4h0M1175.8 883.4h0M1177.0 883.4h0M1178.2 883.4h0M1179.4 883.4h0M1180.6 883.4h0M1181.8 883.4h0M1182.9 883.4h0M1184.1 883.4h0M1185.3 883.4h0M1186.5 883.4h0M1187.7 883.4h0M1188.9 883.4h0M1190.0 883.4h0M1191.2 883.4h0M1192.4 883.4h0M1193.6 883.4h0M1194.8 883.4h0M1196.0 883.4h0M1197.2 883.4h0M1198.3 883.4h0M1199.5 883.4h0M1200.7 883.4h0M1201.9 883.4h0M1203.1 883.4h0M1204.3 883.4h0M1205.4 883.4h0M1206.6 883.4h0M1207.8 883.4h0M1209.0 883.4h0M1210.2 883.4h0M1211.4 883.4h0M1212.6 883.4h0M1213.7 883.4h0M1214.9 883.4h0M1216.1 883.4h0M1217.3 883.4h0M1218.5 883.4h0M1219.7 883.4h0M1220.8 883.4h0M1222.0 883.4h0M1223.2 883.4h0M1224.4 883.4h0M1225.6 883.4h0M1226.8 690.4h0M1228.0 690.4h0M1229.1 690.4h0M1230.3 690.4h0M1231.5 497.3h0M1232.7 497.3h0M1233.9 497.3h0M1235.1 497.3h0M1236.2 497.3h0M1237.4 497.3h0M1238.6 497.3h0M1239.8 497.3h0M1241.0 497.3h0M1242.2 497.3h0M1243.4 497.3h0M1244.5 497.3h0M1245.7 497.3h0M1246.9 497.3h0M1248.1 497.3h0M1249.3 497.3h0M1250.5 497.3h0M1251.6 497.3h0M1252.8 497.3h0M1254.0 497.3h0M1255.2 497.3h0M1256.4 497.3h0M1257.6 690.4h0M1258.8 690.4h0M1259.9 690.4h0M1261.1 690.4h0M1262.3 690.4h0M1263.5 690.4h0M1264.7 690.4h0M1265.9 690.4h0M1267.0 690.4h0M1268.2 690.4h0M1269.4 690.4h0M1270.6 690.4h0M1271.8 690.4h0M1273.0 690.4h0M1274.2 690.4h0M1275.3 690.4h0M1276.5 690.4h0M1277.7 690.4h0M1278.9 690.4h0M1280.1 690.4h0M1281.3 690.4h0M1282.5 690.4h0M1283.6 690.4h0M1284.8 497.3h0M1286.0 690.4h0M1287.2 497.3h0M1288.4 497.3h0M1289.6 497.3h0M1290.7 497.3h0M1291.9 497.3h0M1293.1 497.3h0M1294.3 690.4h0M1295.5 690.4h0M1296.7 690.4h0M1297.9 690.4h0M1299.0 690.4h0M1300.2 690.4h0M1301.4 690.4h0M1302.6 690.4h0M1303.8 690.4h0M1305.0 690.4h0M1306.1 865.9h0M1307.3 865.9h0M1308.5 865.9h0M1309.7 865.9h0M1310.9 865.9h0M1312.1 865.9h0M1313.3 865.9h0M1314.4 1041.3h0M1315.6 1041.3h0M1316.8 1041.3h0M1318.0 1041.3h0M1319.2 1041.3h0M1320.4 1041.3h0M1321.5 1041.3h0M1322.7 1181.8h0M1323.9 1181.8h0M1325.1 1181.8h0M1326.3 1181.8h0M1327.5 1181.8h0M1328.7 1076.5h0M1329.8 1076.5h0M1331.0 1076.5h0M1332.2 1076.5h0M1333.4 1076.5h0M1334.6 1076.5h0M1335.8 1076.5h0M1336.9 1076.5h0M1338.1 1076.5h0M1339.3 1076.5h0M1340.5 1076.5h0M1341.7 1076.5h0M1342.9 1076.5h0M1344.1 1076.5h0M1345.2 1076.5h0M1346.4 936.0h0M1347.6 936.0h0M1348.8 1181.8h0M1350.0 1181.8h0M1351.2 1181.8h0M1352.3 1181.8h0M1353.5 1181.8h0M1354.7 1181.8h0M1355.9 1181.8h0M1357.1 1181.8h0M1358.3 1181.8h0M1359.5 1181.8h0M1360.6 1181.8h0M1361.8 1181.8h0M1363.0 1181.8h0M1364.2 1181.8h0M1365.4 1181.8h0M1366.6 1181.8h0M1367.7 1181.8h0M1368.9 1181.8h0M1370.1 1181.8h0M1371.3 1041.3h0M1372.5 1041.3h0M1373.7 1041.3h0M1374.9 1041.3h0M1376.0 1041.3h0M1377.2 1041.3h0M1378.4 1041.3h0M1379.6 1041.3h0M1380.8 1041.3h0M1382.0 1041.3h0M1383.1 1041.3h0M1384.3 1041.3h0M1385.5 1041.3h0M1386.7 1041.3h0M1387.9 1041.3h0M1389.1 1041.3h0M1390.3 1041.3h0M1391.4 1041.3h0M1392.6 1041.3h0M1393.8 1041.3h0M1395.0 1041.3h0M1396.2 1041.3h0M1397.4 1041.3h0M1398.5 1041.3h0M1399.7 1041.3h0M1400.9 1041.3h0M1402.1 1041.3h0M1403.3 1041.3h0M1404.5 1041.3h0M1405.7 1041.3h0M1406.8 1041.3h0M1408.0 1041.3h0M1409.2 1041.3h0M1410.4 1041.3h0M1411.6 883.4h0M1412.8 883.4h0M1413.9 883.4h0M1415.1 1076.5h0M1416.3 936.0h0M1417.5 936.0h0M1418.7 936.0h0M1419.9 936.0h0M1421.1 936.0h0M1422.2 936.0h0M1423.4 936.0h0M1424.6 936.0h0M1425.8 936.0h0M1427.0 936.0h0M1428.2 795.6h0M1429.3 795.6h0M1430.5 795.6h0M1431.7 655.2h0M1432.9 655.2h0M1434.1 655.2h0M1435.3 655.2h0M1436.5 655.2h0M1437.6 655.2h0M1438.8 655.2h0M1440.0 655.2h0M1441.2 655.2h0M1442.4 655.2h0M1443.6 655.2h0M1444.8 655.2h0M1445.9 655.2h0M1447.1 655.2h0M1448.3 655.2h0M1449.5 655.2h0M1450.7 655.2h0M1451.9 655.2h0M1453.0 655.2h0M1454.2 655.2h0M1455.4 655.2h0M1456.6 655.2h0M1457.8 655.2h0M1459.0 655.2h0M1460.2 795.6h0M1461.3 795.6h0M1462.5 795.6h0M1463.7 795.6h0M1464.9 795.6h0M1466.1 795.6h0M1467.3 795.6h0M1468.4 795.6h0M1469.6 795.6h0M1470.8 795.6h0M1472.0 795.6h0M1473.2 567.5h0M1474.4 567.5h0M1475.6 567.5h0M1476.7 567.5h0M1477.9 567.5h0M1479.1 567.5h0M1480.3 725.5h0M1481.5 725.5h0M1482.7 725.5h0M1483.8 725.5h0M1485.0 725.5h0M1486.2 725.5h0M1487.4 883.4h0M1488.6 883.4h0M1489.8 883.4h0M1491.0 883.4h0M1492.1 883.4h0M1493.3 883.4h0M1494.5 883.4h0M1495.7 883.4h0M1496.9 883.4h0M1498.1 883.4h0M1499.2 883.4h0M1500.4 883.4h0M1501.6 883.4h0M1502.8 883.4h0M1504.0 883.4h0M1505.2 883.4h0M1506.4 883.4h0M1507.5 883.4h0M1508.7 883.4h0M1509.9 883.4h0M1511.1 883.4h0M1512.3 690.4h0M1513.5 690.4h0M1514.6 690.4h0M1515.8 690.4h0M1517.0 883.4h0M1518.2 883.4h0M1519.4 883.4h0M1520.6 883.4h0M1521.8 883.4h0M1522.9 883.4h0M1524.1 883.4h0M1525.3 690.4h0M1526.5 690.4h0M1527.7 690.4h0M1528.9 690.4h0M1530.0 690.4h0M1531.2 690.4h0M1532.4 865.9h0M1533.6 865.9h0M1534.8 865.9h0M1536.0 865.9h0M1537.2 865.9h0M1538.3 865.9h0M1539.5 865.9h0M1540.7 865.9h0M1541.9 865.9h0M1543.1 865.9h0M1544.3 865.9h0M1545.4 865.9h0M1546.6 865.9h0M1547.8 865.9h0M1549.0 865.9h0M1550.2 865.9h0M1551.4 865.9h0M1552.6 865.9h0M1553.7 865.9h0M1554.9 865.9h0M1556.1 865.9h0M1557.3 690.4h0M1558.5 690.4h0M1559.7 690.4h0M1560.8 690.4h0M1562.0 690.4h0M1563.2 690.4h0M1564.4 690.4h0M1565.6 690.4h0M1566.8 690.4h0M1568.0 690.4h0M1569.1 690.4h0M1570.3 690.4h0M1571.5 690.4h0M1572.7 690.4h0M1573.9 690.4h0M1575.1 497.3h0M1576.2 497.3h0M1577.4 497.3h0M1578.6 497.3h0M1579.8 497.3h0M1581.0 497.3h0M1582.2 497.3h0M1583.4 497.3h0M1584.5 497.3h0M1585.7 497.3h0M1586.9 497.3h0M1588.1 865.9h0M1589.3 865.9h0M1590.5 865.9h0M1591.6 865.9h0M1592.8 865.9h0M1594.0 690.4h0M1595.2 690.4h0M1596.4 690.4h0M1597.6 690.4h0M1598.8 497.3h0M1599.9 497.3h0M1601.1 497.3h0M1602.3 497.3h0M1603.5 497.3h0M1604.7 497.3h0M1605.9 497.3h0M1607.0 497.3h0M1608.2 497.3h0M1609.4 497.3h0M1610.6 497.3h0M1611.8 497.3h0M1613.0 497.3h0M1614.2 497.3h0M1615.3 497.3h0M1616.5 497.3h0M1617.7 497.3h0M1618.9 497.3h0M1620.1 497.3h0M1621.3 497.3h0M1622.5 497.3h0M1623.6 497.3h0M1624.8 497.3h0M1626.0 497.3h0M1627.2 497.3h0M1628.4 497.3h0M1629.6 497.3h0M1630.7 497.3h0M1631.9 497.3h0M1633.1 497.3h0M1634.3 497.3h0M1635.5 497.3h0M1636.7 497.3h0M1637.9 497.3h0M1639.0 497.3h0M1640.2 497.3h0M1641.4 497.3h0M1642.6 497.3h0M1643.8 497.3h0M1645.0 497.3h0M1646.1 497.3h0M1647.3 497.3h0M1648.5 497.3h0M1649.7 497.3h0M1650.9 497.3h0M1652.1 497.3h0M1653.3 497.3h0M1654.4 497.3h0M1655.6 497.3h0M1656.8 497.3h0M1658.0 497.3h0M1659.2 497.3h0M1660.4 497.3h0M1661.5 497.3h0M1662.7 497.3h0M1663.9 497.3h0M1665.1 497.3h0M1666.3 497.3h0M1667.5 497.3h0M1668.7 497.3h0M1669.8 497.3h0M1671.0 497.3h0M1672.2 497.3h0M1673.4 497.3h0M1674.6 497.3h0M1675.8 497.3h0M1676.9 497.3h0M1678.1 497.3h0M1679.3 497.3h0M1680.5 497.3h0M1681.7 497.3h0M1682.9 497.3h0M1684.1 497.3h0M1685.2 497.3h0M1686.4 497.3h0M1687.6 497.3h0M1688.8 497.3h0M1690.0 497.3h0M1691.2 690.4h0M1692.3 690.4h0M1693.5 690.4h0M1694.7 690.4h0M1695.9 690.4h0M1697.1 690.4h0M1698.3 690.4h0M1699.5 883.4h0M1700.6 883.4h0M1701.8 883.4h0M1703.0 883.4h0M1704.2 883.4h0M1705.4 883.4h0M1706.6 883.4h0M1707.7 883.4h0M1708.9 883.4h0M1710.1 883.4h0M1711.3 883.4h0M1712.5 883.4h0M1713.7 883.4h0M1714.9 883.4h0M1716.0 883.4h0M1717.2 690.4h0M1718.4 497.3h0M1719.6 497.3h0M1720.8 497.3h0M1722.0 304.2h0M1723.1 304.2h0M1724.3 304.2h0M1725.5 304.2h0M1726.7 304.2h0M1727.9 304.2h0M1729.1 304.2h0M1730.3 497.3h0M1731.4 690.4h0M1732.6 690.4h0M1733.8 690.4h0M1735.0 690.4h0M1736.2 690.4h0M1737.4 497.3h0M1738.5 497.3h0M1739.7 497.3h0M1740.9 497.3h0M1742.1 497.3h0M1743.3 497.3h0M1744.5 497.3h0M1745.7 497.3h0M1746.8 497.3h0M1748.0 497.3h0M1749.2 497.3h0M1750.4 304.2h0M1751.6 497.3h0M1752.8 304.2h0M1753.9 497.3h0M1755.1 497.3h0M1756.3 497.3h0M1757.5 497.3h0M1758.7 497.3h0M1759.9 497.3h0M1761.1 304.2h0M1762.2 304.2h0M1763.4 304.2h0M1764.6 304.2h0M1765.8 304.2h0M1767.0 304.2h0M1768.2 304.2h0M1769.3 304.2h0M1770.5 304.2h0M1771.7 304.2h0M1772.9 304.2h0M1774.1 304.2h0M1775.3 304.2h0M1776.5 304.2h0M1777.6 93.7h0M1778.8 304.2h0M1780.0 304.2h0M1781.2 304.2h0M1782.4 497.3h0M1783.6 497.3h0M1784.7 497.3h0M1785.9 497.3h0M1787.1 497.3h0M1788.3 690.4h0M1789.5 690.4h0M1790.7 690.4h0M1791.9 690.4h0M1793.0 690.4h0M1794.2 690.4h0M1795.4 690.4h0M1796.6 690.4h0M1797.8 690.4h0M1799.0 690.4h0M1800.2 690.4h0M1801.3 690.4h0M1802.5 690.4h0M1803.7 690.4h0M1804.9 690.4h0M1806.1 690.4h0M1807.3 690.4h0M1808.4 690.4h0M1809.6 690.4h0M1810.8 690.4h0M1812.0 690.4h0M1813.2 497.3h0M1814.4 497.3h0M1815.6 497.3h0M1816.7 497.3h0" stroke="#D95319" stroke-width="12.3" stroke-linecap="round" fill="none" shape-rendering="crispEdges"/>
<text transform="translate(111.5 1523.6) scale(1 1.0)" font-family="'Liberation Sans', Arial, Helvetica, sans-serif" font-size="54" fill="#262626" text-anchor="middle">0</text>
<text transform="translate(703.8 1523.6) scale(1 1.0)" font-family="'Liberation Sans', Arial, Helvetica, sans-serif" font-size="54" fill="#262626" text-anchor="middle">500</text>
<text transform="translate(1296.2 1523.6) scale(1 1.0)" font-family="'Liberation Sans', Arial, Helvetica, sans-serif" font-size="54" fill="#262626" text-anchor="middle">1000</text>
<text transform="translate(1888.5 1523.6) scale(1 1.0)" font-family="'Liberation Sans', Arial, Helvetica, sans-serif" font-size="54" fill="#262626" text-anchor="middle">1500</text>
<text transform="translate(89.0 1466.3) scale(1 1.0)" font-family="'Liberation Sans', Arial, Helvetica, sans-serif" font-size="54" fill="#262626" text-anchor="end">0</text>
<text transform="translate(89.0 1290.8) scale(1 1.0)" font-family="'Liberation Sans', Arial, Helvetica, sans-serif" font-size="54" fill="#262626" text-anchor="end">10</text>
<text transform="translate(89.0 1115.3) scale(1 1.0)" font-family="'Liberation Sans', Arial, Helvetica, sans-serif" font-size="54" fill="#262626" text-anchor="end">20</text>
<text transform="translate(89.0 939.8) scale(1 1.0)" font-family="'Liberation Sans', Arial, Helvetica, sans-serif" font-size="54" fill="#262626" text-anchor="end">30</text>
<text transform="translate(89.0 764.3) scale(1 1.0)" font-family="'Liberation Sans', Arial, Helvetica, sans-serif" font-size="54" fill="#262626" text-anchor="end">40</text>
<text transform="translate(89.0 588.8) scale(1 1.0)" font-family="'Liberation Sans', Arial, Helvetica, sans-serif" font-size="54" fill="#262626" text-anchor="end">50</text>
<text transform="translate(89.0 413.3) scale(1 1.0)" font-family="'Liberation Sans', Arial, Helvetica, sans-serif" font-size="54" fill="#262626" text-anchor="end">60</text>
<text transform="translate(89.0 237.8) scale(1 1.0)" font-family="'Liberation Sans', Arial, Helvetica, sans-serif" font-size="54" fill="#262626" text-anchor="end">70</text>
<text transform="translate(89.0 62.3) scale(1 1.0)" font-family="'Liberation Sans', Arial, Helvetica, sans-serif" font-size="54" fill="#262626" text-anchor="end">80</text>
<text transform="translate(999.5 1602.0) scale(1 1.0)" font-family="'Liberation Sans', Arial, Helvetica, sans-serif" font-size="59.7" fill="#262626" text-anchor="middle">Epoch/min</text>
<rect x="746.5" y="94.3" width="958" height="147.6" fill="#fff" stroke="#262626" stroke-width="6.5"/>
<path d="M762 134.5H927" stroke="#0072BD" stroke-width="3" fill="none"/>
<circle cx="844.5" cy="134.5" r="5.9" fill="#0072BD"/>
<path d="M762 201H927" stroke="#D95319" stroke-width="4" fill="none"/>
<circle cx="844.5" cy="201" r="5.9" fill="#D95319"/>
<text transform="translate(940.0 154.6) scale(1 1.0)" font-family="'Liberation Sans', Arial, Helvetica, sans-serif" font-size="49" fill="#000" text-anchor="start">Ranking of the real fault</text>
<text transform="translate(940.0 221.8) scale(1 1.0)" font-family="'Liberation Sans', Arial, Helvetica, sans-serif" font-size="49" fill="#000" text-anchor="start">Number of mornitored fault modes</text>
</svg>
</body>
</html>
